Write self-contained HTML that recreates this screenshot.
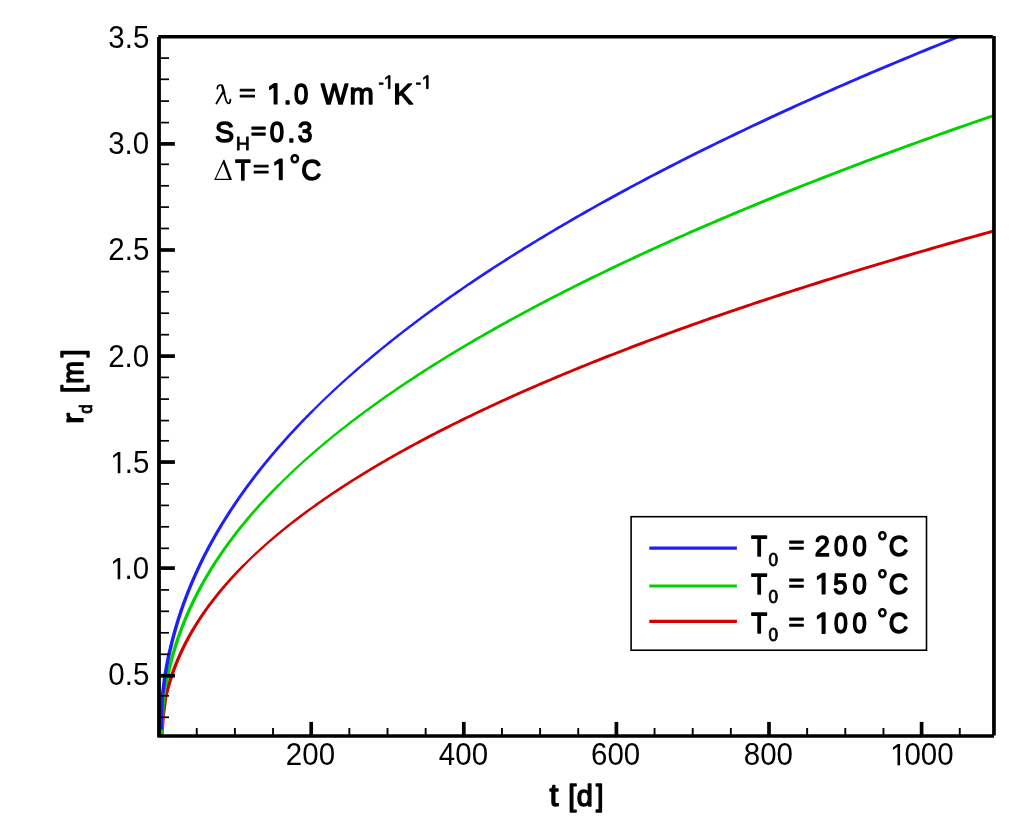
<!DOCTYPE html>
<html><head><meta charset="utf-8"><title>r_d vs t</title><style>
html,body{margin:0;padding:0;background:#fff;width:1024px;height:831px;overflow:hidden}
svg{display:block}
text{fill:#000}
</style></head><body>
<svg width="1024" height="831" viewBox="0 0 1024 831" style="will-change:transform">
<defs><clipPath id="pc"><rect x="159.0" y="36.8" width="834.90" height="699.20"/></clipPath></defs>
<rect width="1024" height="831" fill="#fff"/>
<g clip-path="url(#pc)"><g transform="translate(0.3,0.9)">
<path d="M159.40,736.60 L161.10,714.10 L162.10,706.90 L163.40,696.00 L164.20,693.37 L164.26,693.16 L164.31,692.94 L164.36,692.73 L164.41,692.52 L164.47,692.31 L164.52,692.09 L164.58,691.88 L164.63,691.66 L164.69,691.45 L164.74,691.23 L164.80,691.01 L164.85,690.79 L164.91,690.57 L164.97,690.35 L165.02,690.13 L165.08,689.91 L165.14,689.69 L165.20,689.47 L165.26,689.25 L165.32,689.02 L165.38,688.80 L165.44,688.58 L165.50,688.35 L165.56,688.12 L165.62,687.90 L165.69,687.67 L165.75,687.44 L165.81,687.21 L165.87,686.98 L165.94,686.75 L166.00,686.52 L166.07,686.29 L166.13,686.06 L166.20,685.83 L166.26,685.59 L166.33,685.36 L166.40,685.12 L166.47,684.89 L166.53,684.65 L166.60,684.42 L166.67,684.18 L166.74,683.94 L166.81,683.70 L166.88,683.46 L166.95,683.22 L167.02,682.98 L167.10,682.74 L167.17,682.49 L167.24,682.25 L167.32,682.01 L167.39,681.76 L167.46,681.52 L167.54,681.27 L167.61,681.02 L167.69,680.77 L167.77,680.53 L167.84,680.28 L167.92,680.03 L168.00,679.78 L168.08,679.52 L168.16,679.27 L168.24,679.02 L168.32,678.77 L168.40,678.51 L168.48,678.26 L168.56,678.00 L168.65,677.74 L168.73,677.49 L168.82,677.23 L168.90,676.97 L168.99,676.71 L169.07,676.45 L169.16,676.19 L169.24,675.92 L169.33,675.66 L169.42,675.40 L169.51,675.13 L169.60,674.87 L169.69,674.60 L169.78,674.33 L169.87,674.07 L169.96,673.80 L170.06,673.53 L170.15,673.26 L170.24,672.99 L170.34,672.71 L170.43,672.44 L170.53,672.17 L170.63,671.89 L170.72,671.62 L170.82,671.34 L170.92,671.07 L171.02,670.79 L171.12,670.51 L171.22,670.23 L171.32,669.95 L171.42,669.67 L171.53,669.39 L171.63,669.11 L171.74,668.82 L171.84,668.54 L171.95,668.25 L172.05,667.97 L172.16,667.68 L172.27,667.39 L172.38,667.10 L172.49,666.81 L172.60,666.52 L172.71,666.23 L172.82,665.94 L172.93,665.65 L173.05,665.35 L173.16,665.06 L173.28,664.76 L173.39,664.47 L173.51,664.17 L173.63,663.87 L173.75,663.57 L173.87,663.27 L173.99,662.97 L174.11,662.67 L174.23,662.37 L174.35,662.06 L174.48,661.76 L174.60,661.45 L174.73,661.15 L174.85,660.84 L174.98,660.53 L175.11,660.22 L175.24,659.91 L175.37,659.60 L175.50,659.29 L175.63,658.98 L175.76,658.66 L175.89,658.35 L176.03,658.03 L176.16,657.72 L176.30,657.40 L176.44,657.08 L176.58,656.76 L176.72,656.44 L176.86,656.12 L177.00,655.80 L177.14,655.47 L177.28,655.15 L177.43,654.82 L177.57,654.50 L177.72,654.17 L177.87,653.84 L178.01,653.51 L178.16,653.18 L178.31,652.85 L178.47,652.52 L178.62,652.18 L178.77,651.85 L178.93,651.51 L179.08,651.18 L179.24,650.84 L179.40,650.50 L179.56,650.16 L179.72,649.82 L179.88,649.48 L180.04,649.14 L180.21,648.80 L180.37,648.45 L180.54,648.11 L180.70,647.76 L180.87,647.41 L181.04,647.06 L181.21,646.71 L181.38,646.36 L181.56,646.01 L181.73,645.66 L181.91,645.30 L182.08,644.95 L182.26,644.59 L182.44,644.24 L182.62,643.88 L182.80,643.52 L182.99,643.16 L183.17,642.80 L183.36,642.43 L183.54,642.07 L183.73,641.71 L183.92,641.34 L184.11,640.97 L184.31,640.60 L184.50,640.23 L184.69,639.86 L184.89,639.49 L185.09,639.12 L185.29,638.75 L185.49,638.37 L185.69,638.00 L185.89,637.62 L186.10,637.24 L186.31,636.86 L186.51,636.48 L186.72,636.10 L186.93,635.72 L187.15,635.33 L187.36,634.95 L187.58,634.56 L187.79,634.17 L188.01,633.78 L188.23,633.39 L188.45,633.00 L188.67,632.61 L188.90,632.22 L189.12,631.82 L189.35,631.43 L189.58,631.03 L189.81,630.63 L190.05,630.23 L190.28,629.83 L190.52,629.43 L190.75,629.03 L190.99,628.62 L191.23,628.22 L191.48,627.81 L191.72,627.40 L191.97,626.99 L192.21,626.58 L192.46,626.17 L192.71,625.76 L192.97,625.35 L193.22,624.93 L193.48,624.51 L193.74,624.10 L194.00,623.68 L194.26,623.26 L194.52,622.83 L194.79,622.41 L195.06,621.99 L195.32,621.56 L195.60,621.13 L195.87,620.71 L196.14,620.28 L196.42,619.85 L196.70,619.41 L196.98,618.98 L197.27,618.55 L197.55,618.11 L197.84,617.67 L198.13,617.23 L198.42,616.79 L198.71,616.35 L199.01,615.91 L199.30,615.47 L199.60,615.02 L199.90,614.57 L200.21,614.13 L200.51,613.68 L200.82,613.23 L201.13,612.77 L201.44,612.32 L201.76,611.87 L202.07,611.41 L202.39,610.95 L202.71,610.49 L203.04,610.03 L203.36,609.57 L203.69,609.11 L204.02,608.64 L204.35,608.18 L204.69,607.71 L205.03,607.24 L205.37,606.77 L205.71,606.30 L206.05,605.82 L206.40,605.35 L206.75,604.87 L207.10,604.40 L207.46,603.92 L207.81,603.44 L208.17,602.95 L208.53,602.47 L208.90,601.99 L209.26,601.50 L209.63,601.01 L210.01,600.52 L210.38,600.03 L210.76,599.54 L211.14,599.05 L211.52,598.55 L211.91,598.05 L212.29,597.56 L212.69,597.06 L213.08,596.56 L213.48,596.05 L213.87,595.55 L214.28,595.04 L214.68,594.53 L215.09,594.03 L215.50,593.52 L215.91,593.00 L216.33,592.49 L216.75,591.97 L217.17,591.46 L217.60,590.94 L218.02,590.42 L218.46,589.90 L218.89,589.37 L219.33,588.85 L219.77,588.32 L220.21,587.80 L220.66,587.27 L221.11,586.74 L221.56,586.20 L222.02,585.67 L222.48,585.13 L222.94,584.59 L223.40,584.06 L223.87,583.51 L224.35,582.97 L224.82,582.43 L225.30,581.88 L225.78,581.33 L226.27,580.79 L226.76,580.23 L227.25,579.68 L227.75,579.13 L228.25,578.57 L228.75,578.01 L229.26,577.45 L229.77,576.89 L230.28,576.33 L230.80,575.77 L231.32,575.20 L231.85,574.63 L232.37,574.06 L232.91,573.49 L233.44,572.92 L233.98,572.34 L234.53,571.77 L235.07,571.19 L235.62,570.61 L236.18,570.03 L236.74,569.44 L237.30,568.86 L237.87,568.27 L238.44,567.68 L239.02,567.09 L239.59,566.50 L240.18,565.90 L240.76,565.31 L241.36,564.71 L241.95,564.11 L242.55,563.51 L244.96,561.35 L245.56,560.75 L246.18,560.14 L246.79,559.53 L247.41,558.92 L248.04,558.31 L248.67,557.69 L249.30,557.08 L249.94,556.46 L250.59,555.84 L251.23,555.22 L251.89,554.59 L252.54,553.97 L253.21,553.34 L253.87,552.71 L254.54,552.08 L255.22,551.44 L255.90,550.81 L256.58,550.17 L257.27,549.53 L257.97,548.89 L258.67,548.25 L259.37,547.60 L260.08,546.95 L260.80,546.30 L261.52,545.65 L262.24,545.00 L262.97,544.34 L263.71,543.69 L264.45,543.03 L265.19,542.37 L265.95,541.70 L266.70,541.04 L267.46,540.37 L268.23,539.70 L269.00,539.03 L269.78,538.35 L270.56,537.68 L271.35,537.00 L272.15,536.32 L272.95,535.64 L273.75,534.96 L274.56,534.27 L275.38,533.58 L276.20,532.89 L277.03,532.20 L277.86,531.50 L278.70,530.81 L279.55,530.11 L280.40,529.41 L281.26,528.71 L282.12,528.00 L282.99,527.29 L283.87,526.58 L284.75,525.87 L285.64,525.16 L286.54,524.44 L287.44,523.72 L288.34,523.00 L289.26,522.28 L290.18,521.56 L291.10,520.83 L292.04,520.10 L292.98,519.37 L293.92,518.64 L294.88,517.90 L295.84,517.16 L296.80,516.42 L297.78,515.68 L298.76,514.93 L299.75,514.19 L300.74,513.44 L301.74,512.69 L302.75,511.93 L303.76,511.18 L304.79,510.42 L305.82,509.66 L306.85,508.89 L307.90,508.13 L308.95,507.36 L310.01,506.59 L311.07,505.82 L312.15,505.04 L313.23,504.26 L314.32,503.48 L315.42,502.70 L316.52,501.92 L317.63,501.13 L318.75,500.34 L319.88,499.55 L321.02,498.76 L322.16,497.96 L323.31,497.16 L324.47,496.36 L325.64,495.55 L326.82,494.75 L328.00,493.94 L329.20,493.13 L330.40,492.31 L331.61,491.50 L332.83,490.68 L334.05,489.86 L335.29,489.03 L336.53,488.21 L337.79,487.38 L339.05,486.55 L340.32,485.71 L341.60,484.88 L342.89,484.04 L344.19,483.20 L345.49,482.35 L346.81,481.51 L348.14,480.66 L349.47,479.80 L350.82,478.95 L352.17,478.09 L353.53,477.23 L354.91,476.37 L356.29,475.51 L357.68,474.64 L359.08,473.77 L360.50,472.89 L361.92,472.02 L363.35,471.14 L364.79,470.26 L366.24,469.38 L367.71,468.49 L369.18,467.60 L370.66,466.71 L372.16,465.81 L373.66,464.92 L375.17,464.02 L376.70,463.11 L378.24,462.21 L379.78,461.30 L381.34,460.39 L382.91,459.48 L384.49,458.56 L386.08,457.64 L387.68,456.72 L389.30,455.79 L390.92,454.86 L392.56,453.93 L394.21,453.00 L395.87,452.06 L397.54,451.12 L399.22,450.18 L400.91,449.24 L402.62,448.29 L404.34,447.34 L406.07,446.38 L407.81,445.43 L409.57,444.47 L411.34,443.51 L413.12,442.54 L414.91,441.57 L416.72,440.60 L418.53,439.63 L420.36,438.65 L422.21,437.67 L424.06,436.69 L425.93,435.70 L427.82,434.71 L429.71,433.72 L431.62,432.72 L433.55,431.73 L435.48,430.72 L437.43,429.72 L439.40,428.71 L441.37,427.70 L443.37,426.69 L445.37,425.67 L447.39,424.65 L449.43,423.63 L451.47,422.60 L453.54,421.57 L455.62,420.54 L457.71,419.51 L459.81,418.47 L461.94,417.42 L464.07,416.38 L466.22,415.33 L468.39,414.28 L470.57,413.23 L472.77,412.17 L474.98,411.11 L477.21,410.04 L479.46,408.97 L481.72,407.90 L483.99,406.83 L486.28,405.75 L488.59,404.67 L490.92,403.59 L493.26,402.50 L495.61,401.41 L497.99,400.32 L500.38,399.22 L502.78,398.12 L505.21,397.02 L507.65,395.91 L510.11,394.80 L512.58,393.68 L515.08,392.57 L517.59,391.45 L520.12,390.32 L522.66,389.19 L525.23,388.06 L527.81,386.93 L530.41,385.79 L533.03,384.65 L535.67,383.50 L538.32,382.36 L541.00,381.20 L543.69,380.05 L546.40,378.89 L549.13,377.73 L551.89,376.56 L554.66,375.39 L557.45,374.22 L560.25,373.04 L563.08,371.86 L565.93,370.68 L568.80,369.49 L571.69,368.30 L574.60,367.10 L577.53,365.91 L580.48,364.70 L583.45,363.50 L586.45,362.29 L589.46,361.08 L592.49,359.86 L595.55,358.64 L598.63,357.41 L601.73,356.19 L604.85,354.96 L607.99,353.72 L611.16,352.48 L614.34,351.24 L617.55,349.99 L620.79,348.74 L624.04,347.49 L627.32,346.23 L630.62,344.97 L633.95,343.70 L637.29,342.43 L640.67,341.16 L644.06,339.88 L647.48,338.60 L650.92,337.31 L654.39,336.03 L657.88,334.73 L661.40,333.44 L664.94,332.14 L668.51,330.83 L672.10,329.52 L675.72,328.21 L679.36,326.89 L683.03,325.57 L686.72,324.25 L690.44,322.92 L694.19,321.59 L697.96,320.25 L701.76,318.91 L705.58,317.56 L709.44,316.22 L713.32,314.86 L717.22,313.50 L721.16,312.14 L725.12,310.78 L729.11,309.41 L733.13,308.04 L737.18,306.66 L741.25,305.28 L745.36,303.89 L749.49,302.50 L753.65,301.10 L757.84,299.71 L762.06,298.30 L766.31,296.89 L770.59,295.48 L774.90,294.07 L779.24,292.65 L783.62,291.22 L788.02,289.79 L792.45,288.36 L796.92,286.92 L801.41,285.48 L805.94,284.03 L810.50,282.58 L815.09,281.13 L819.72,279.67 L824.37,278.21 L829.06,276.74 L833.78,275.27 L838.54,273.79 L843.33,272.31 L848.15,270.82 L853.01,269.33 L857.90,267.83 L862.82,266.33 L867.79,264.83 L872.78,263.32 L877.81,261.81 L882.88,260.29 L887.98,258.77 L893.12,257.24 L898.29,255.71 L903.50,254.17 L908.75,252.63 L914.03,251.09 L919.35,249.54 L924.71,247.98 L930.10,246.42 L935.54,244.86 L941.01,243.29 L946.52,241.71 L952.07,240.14 L957.66,238.55 L963.29,236.96 L968.96,235.37 L974.66,233.77 L980.41,232.17 L986.20,230.56 L992.03,228.95 L997.90,227.33 L997.90,230.43 L992.03,232.05 L986.20,233.66 L980.41,235.27 L974.66,236.87 L968.96,238.47 L963.29,240.06 L957.66,241.65 L952.07,243.24 L946.52,244.81 L941.01,246.39 L935.54,247.96 L930.10,249.52 L924.71,251.08 L919.35,252.64 L914.03,254.19 L908.75,255.73 L903.50,257.27 L898.29,258.81 L893.12,260.34 L887.98,261.87 L882.88,263.39 L877.81,264.91 L872.78,266.42 L867.79,267.93 L862.82,269.43 L857.90,270.93 L853.01,272.43 L848.15,273.92 L843.33,275.41 L838.54,276.89 L833.78,278.37 L829.06,279.84 L824.37,281.31 L819.72,282.77 L815.09,284.23 L810.50,285.68 L805.94,287.13 L801.41,288.58 L796.92,290.02 L792.45,291.46 L788.02,292.89 L783.62,294.32 L779.24,295.75 L774.90,297.17 L770.59,298.58 L766.31,299.99 L762.06,301.40 L757.84,302.81 L753.65,304.20 L749.49,305.60 L745.36,306.99 L741.25,308.38 L737.18,309.76 L733.13,311.14 L729.11,312.51 L725.12,313.88 L721.16,315.24 L717.22,316.60 L713.32,317.96 L709.44,319.32 L705.58,320.66 L701.76,322.01 L697.96,323.35 L694.19,324.69 L690.44,326.02 L686.72,327.35 L683.03,328.67 L679.36,329.99 L675.72,331.31 L672.10,332.62 L668.51,333.93 L664.94,335.24 L661.40,336.54 L657.88,337.83 L654.39,339.13 L650.92,340.41 L647.48,341.70 L644.06,342.98 L640.67,344.26 L637.29,345.53 L633.95,346.80 L630.62,348.07 L627.32,349.33 L624.04,350.59 L620.79,351.84 L617.55,353.09 L614.34,354.34 L611.16,355.58 L607.99,356.82 L604.85,358.06 L601.73,359.29 L598.63,360.51 L595.55,361.74 L592.49,362.96 L589.46,364.18 L586.45,365.39 L583.45,366.60 L580.48,367.80 L577.53,369.01 L574.60,370.20 L571.69,371.40 L568.80,372.59 L565.93,373.78 L563.08,374.96 L560.25,376.14 L557.45,377.32 L554.66,378.49 L551.89,379.66 L549.13,380.83 L546.40,381.99 L543.69,383.15 L541.00,384.30 L538.32,385.46 L535.67,386.60 L533.03,387.75 L530.41,388.89 L527.81,390.03 L525.23,391.16 L522.66,392.29 L520.12,393.42 L517.59,394.55 L515.08,395.67 L512.58,396.78 L510.11,397.90 L507.65,399.01 L505.21,400.12 L502.78,401.22 L500.38,402.32 L497.99,403.42 L495.61,404.51 L493.26,405.60 L490.92,406.69 L488.59,407.77 L486.28,408.85 L483.99,409.93 L481.72,411.00 L479.46,412.07 L477.21,413.14 L474.98,414.21 L472.77,415.27 L470.57,416.33 L468.39,417.38 L466.22,418.43 L464.07,419.48 L461.94,420.52 L459.81,421.57 L457.71,422.61 L455.62,423.64 L453.54,424.67 L451.47,425.70 L449.43,426.73 L447.39,427.75 L445.37,428.77 L443.37,429.79 L441.37,430.80 L439.40,431.81 L437.43,432.82 L435.48,433.82 L433.55,434.83 L431.62,435.82 L429.71,436.82 L427.82,437.81 L425.93,438.80 L424.06,439.79 L422.21,440.77 L420.36,441.75 L418.53,442.73 L416.72,443.70 L414.91,444.67 L413.12,445.64 L411.34,446.61 L409.57,447.57 L407.81,448.53 L406.07,449.48 L404.34,450.44 L402.62,451.39 L400.91,452.34 L399.22,453.28 L397.54,454.22 L395.87,455.16 L394.21,456.10 L392.56,457.03 L390.92,457.96 L389.30,458.89 L387.68,459.82 L386.08,460.74 L384.49,461.66 L382.91,462.58 L381.34,463.49 L379.78,464.40 L378.24,465.31 L376.70,466.21 L375.17,467.12 L373.66,468.02 L372.16,468.91 L370.66,469.81 L369.18,470.70 L367.71,471.59 L366.24,472.48 L364.79,473.36 L363.35,474.24 L361.92,475.12 L360.50,475.99 L359.08,476.87 L357.68,477.74 L356.29,478.61 L354.91,479.47 L353.53,480.33 L352.17,481.19 L350.82,482.05 L349.47,482.90 L348.14,483.76 L346.81,484.61 L345.49,485.45 L344.19,486.30 L342.89,487.14 L341.60,487.98 L340.32,488.81 L339.05,489.65 L337.79,490.48 L336.53,491.31 L335.29,492.13 L334.05,492.96 L332.83,493.78 L331.61,494.60 L330.40,495.41 L329.20,496.23 L328.00,497.04 L326.82,497.85 L325.64,498.65 L324.47,499.46 L323.31,500.26 L322.16,501.06 L321.02,501.86 L319.88,502.65 L318.75,503.44 L317.63,504.23 L316.52,505.02 L315.42,505.80 L314.32,506.58 L313.23,507.36 L312.15,508.14 L311.07,508.92 L310.01,509.69 L308.95,510.46 L307.90,511.23 L306.85,511.99 L305.82,512.76 L304.79,513.52 L303.76,514.28 L302.75,515.03 L301.74,515.79 L300.74,516.54 L299.75,517.29 L298.76,518.03 L297.78,518.78 L296.80,519.52 L295.84,520.26 L294.88,521.00 L293.92,521.74 L292.98,522.47 L292.04,523.20 L291.10,523.93 L290.18,524.66 L289.26,525.38 L288.34,526.10 L287.44,526.82 L286.54,527.54 L285.64,528.26 L284.75,528.97 L283.87,529.68 L282.99,530.39 L282.12,531.10 L281.26,531.81 L280.40,532.51 L279.55,533.21 L278.70,533.91 L277.86,534.60 L277.03,535.30 L276.20,535.99 L275.38,536.68 L274.56,537.37 L273.75,538.06 L272.95,538.74 L272.15,539.42 L271.35,540.10 L270.56,540.78 L269.78,541.45 L269.00,542.13 L268.23,542.80 L267.46,543.47 L266.70,544.14 L265.95,544.80 L265.19,545.47 L264.45,546.13 L263.71,546.79 L262.97,547.44 L262.24,548.10 L261.52,548.75 L260.80,549.40 L260.08,550.05 L259.37,550.70 L258.67,551.35 L257.97,551.99 L257.27,552.63 L256.58,553.27 L255.90,553.91 L255.22,554.54 L254.54,555.18 L253.87,555.81 L253.21,556.44 L252.54,557.07 L251.89,557.69 L251.23,558.32 L250.59,558.94 L249.94,559.56 L249.30,560.18 L248.67,560.79 L248.04,561.41 L247.41,562.02 L246.79,562.63 L246.18,563.24 L245.56,563.85 L244.96,564.45 L246.15,563.51 L245.55,564.11 L244.96,564.71 L244.36,565.31 L243.78,565.90 L243.19,566.50 L242.62,567.09 L242.04,567.68 L241.47,568.27 L240.90,568.86 L240.34,569.44 L239.78,570.03 L239.22,570.61 L238.67,571.19 L238.13,571.77 L237.58,572.34 L237.04,572.92 L236.51,573.49 L235.97,574.06 L235.45,574.63 L234.92,575.20 L234.40,575.77 L233.88,576.33 L233.37,576.89 L232.86,577.45 L232.35,578.01 L231.85,578.57 L231.35,579.13 L230.85,579.68 L230.36,580.23 L229.87,580.79 L229.38,581.33 L228.90,581.88 L228.42,582.43 L227.95,582.97 L227.47,583.51 L227.00,584.06 L226.54,584.59 L226.08,585.13 L225.62,585.67 L225.16,586.20 L224.71,586.74 L224.26,587.27 L223.81,587.80 L223.37,588.32 L222.93,588.85 L222.49,589.37 L222.06,589.90 L221.62,590.42 L221.20,590.94 L220.77,591.46 L220.35,591.97 L219.93,592.49 L219.51,593.00 L219.10,593.52 L218.69,594.03 L218.28,594.53 L217.88,595.04 L217.47,595.55 L217.08,596.05 L216.68,596.56 L216.29,597.06 L215.89,597.56 L215.51,598.05 L215.12,598.55 L214.74,599.05 L214.36,599.54 L213.98,600.03 L213.61,600.52 L213.23,601.01 L212.86,601.50 L212.50,601.99 L212.13,602.47 L211.77,602.95 L211.41,603.44 L211.06,603.92 L210.70,604.40 L210.35,604.87 L210.00,605.35 L209.65,605.82 L209.31,606.30 L208.97,606.77 L208.63,607.24 L208.29,607.71 L207.95,608.18 L207.62,608.64 L207.29,609.11 L206.96,609.57 L206.64,610.03 L206.31,610.49 L205.99,610.95 L205.67,611.41 L205.36,611.87 L205.04,612.32 L204.73,612.77 L204.42,613.23 L204.11,613.68 L203.81,614.13 L203.50,614.57 L203.20,615.02 L202.90,615.47 L202.61,615.91 L202.31,616.35 L202.02,616.79 L201.73,617.23 L201.44,617.67 L201.15,618.11 L200.87,618.55 L200.58,618.98 L200.30,619.41 L200.02,619.85 L199.74,620.28 L199.47,620.71 L199.20,621.13 L198.92,621.56 L198.66,621.99 L198.39,622.41 L198.12,622.83 L197.86,623.26 L197.60,623.68 L197.34,624.10 L197.08,624.51 L196.82,624.93 L196.57,625.35 L196.31,625.76 L196.06,626.17 L195.81,626.58 L195.57,626.99 L195.32,627.40 L195.08,627.81 L194.83,628.22 L194.59,628.62 L194.35,629.03 L194.12,629.43 L193.88,629.83 L193.65,630.23 L193.41,630.63 L193.18,631.03 L192.95,631.43 L192.72,631.82 L192.50,632.22 L192.27,632.61 L192.05,633.00 L191.83,633.39 L191.61,633.78 L191.39,634.17 L191.18,634.56 L190.96,634.95 L190.75,635.33 L190.53,635.72 L190.32,636.10 L190.11,636.48 L189.91,636.86 L189.70,637.24 L189.49,637.62 L189.29,638.00 L189.09,638.37 L188.89,638.75 L188.69,639.12 L188.49,639.49 L188.29,639.86 L188.10,640.23 L187.91,640.60 L187.71,640.97 L187.52,641.34 L187.33,641.71 L187.14,642.07 L186.96,642.43 L186.77,642.80 L186.59,643.16 L186.40,643.52 L186.22,643.88 L186.04,644.24 L185.86,644.59 L185.68,644.95 L185.51,645.30 L185.33,645.66 L185.16,646.01 L184.98,646.36 L184.81,646.71 L184.64,647.06 L184.47,647.41 L184.30,647.76 L184.14,648.11 L183.97,648.45 L183.81,648.80 L183.64,649.14 L183.48,649.48 L183.32,649.82 L183.16,650.16 L183.00,650.50 L182.84,650.84 L182.68,651.18 L182.53,651.51 L182.37,651.85 L182.22,652.18 L182.07,652.52 L181.91,652.85 L181.76,653.18 L181.61,653.51 L181.47,653.84 L181.32,654.17 L181.17,654.50 L181.03,654.82 L180.88,655.15 L180.74,655.47 L180.60,655.80 L180.46,656.12 L180.32,656.44 L180.18,656.76 L180.04,657.08 L179.90,657.40 L179.76,657.72 L179.63,658.03 L179.49,658.35 L179.36,658.66 L179.23,658.98 L179.10,659.29 L178.97,659.60 L178.84,659.91 L178.71,660.22 L178.58,660.53 L178.45,660.84 L178.33,661.15 L178.20,661.45 L178.08,661.76 L177.95,662.06 L177.83,662.37 L177.71,662.67 L177.59,662.97 L177.47,663.27 L177.35,663.57 L177.23,663.87 L177.11,664.17 L176.99,664.47 L176.88,664.76 L176.76,665.06 L176.65,665.35 L176.53,665.65 L176.42,665.94 L176.31,666.23 L176.20,666.52 L176.09,666.81 L175.98,667.10 L175.87,667.39 L175.76,667.68 L175.65,667.97 L175.55,668.25 L175.44,668.54 L175.34,668.82 L175.23,669.11 L175.13,669.39 L175.02,669.67 L174.92,669.95 L174.82,670.23 L174.72,670.51 L174.62,670.79 L174.52,671.07 L174.42,671.34 L174.32,671.62 L174.23,671.89 L174.13,672.17 L174.03,672.44 L173.94,672.71 L173.84,672.99 L173.75,673.26 L173.66,673.53 L173.56,673.80 L173.47,674.07 L173.38,674.33 L173.29,674.60 L173.20,674.87 L173.11,675.13 L173.02,675.40 L172.93,675.66 L172.84,675.92 L172.76,676.19 L172.67,676.45 L172.59,676.71 L172.50,676.97 L172.42,677.23 L172.33,677.49 L172.25,677.74 L172.16,678.00 L172.08,678.26 L172.00,678.51 L171.92,678.77 L171.84,679.02 L171.76,679.27 L171.68,679.52 L171.60,679.78 L171.52,680.03 L171.44,680.28 L171.37,680.53 L171.29,680.77 L171.21,681.02 L171.14,681.27 L171.06,681.52 L170.99,681.76 L170.92,682.01 L170.84,682.25 L170.77,682.49 L170.70,682.74 L170.62,682.98 L170.55,683.22 L170.48,683.46 L170.41,683.70 L170.34,683.94 L170.27,684.18 L170.20,684.42 L170.13,684.65 L170.07,684.89 L170.00,685.12 L169.93,685.36 L169.86,685.59 L169.80,685.83 L169.73,686.06 L169.67,686.29 L169.60,686.52 L169.54,686.75 L169.47,686.98 L169.41,687.21 L169.35,687.44 L169.29,687.67 L169.22,687.90 L169.16,688.12 L169.10,688.35 L169.04,688.58 L168.98,688.80 L168.92,689.02 L168.86,689.25 L168.80,689.47 L168.74,689.69 L168.68,689.91 L168.62,690.13 L168.57,690.35 L168.51,690.57 L168.45,690.79 L168.40,691.01 L168.34,691.23 L168.29,691.45 L168.23,691.66 L168.18,691.88 L168.12,692.09 L168.07,692.31 L168.01,692.52 L167.96,692.73 L167.91,692.94 L167.86,693.16 L167.80,693.37 L167.00,696.00 L165.70,706.90 L164.70,714.10 L163.00,736.60 Z" fill="#d20000"/>
<path d="M159.40,733.50 L160.70,706.90 L161.80,696.00 L162.80,685.20 L164.00,682.65 L164.05,682.39 L164.10,682.12 L164.15,681.85 L164.20,681.58 L164.26,681.31 L164.31,681.04 L164.36,680.77 L164.41,680.50 L164.47,680.23 L164.52,679.96 L164.58,679.68 L164.63,679.41 L164.69,679.13 L164.74,678.86 L164.80,678.58 L164.85,678.31 L164.91,678.03 L164.97,677.75 L165.02,677.47 L165.08,677.19 L165.14,676.91 L165.20,676.62 L165.26,676.34 L165.32,676.06 L165.38,675.77 L165.44,675.49 L165.50,675.20 L165.56,674.92 L165.62,674.63 L165.69,674.34 L165.75,674.05 L165.81,673.76 L165.87,673.47 L165.94,673.18 L166.00,672.89 L166.07,672.59 L166.13,672.30 L166.20,672.01 L166.26,671.71 L166.33,671.41 L166.40,671.12 L166.47,670.82 L166.53,670.52 L166.60,670.22 L166.67,669.92 L166.74,669.62 L166.81,669.32 L166.88,669.01 L166.95,668.71 L167.02,668.40 L167.10,668.10 L167.17,667.79 L167.24,667.48 L167.32,667.18 L167.39,666.87 L167.46,666.56 L167.54,666.25 L167.61,665.94 L167.69,665.62 L167.77,665.31 L167.84,665.00 L167.92,664.68 L168.00,664.36 L168.08,664.05 L168.16,663.73 L168.24,663.41 L168.32,663.09 L168.40,662.77 L168.48,662.45 L168.56,662.13 L168.65,661.80 L168.73,661.48 L168.82,661.16 L168.90,660.83 L168.99,660.50 L169.07,660.18 L169.16,659.85 L169.24,659.52 L169.33,659.19 L169.42,658.86 L169.51,658.52 L169.60,658.19 L169.69,657.86 L169.78,657.52 L169.87,657.19 L169.96,656.85 L170.06,656.51 L170.15,656.17 L170.24,655.83 L170.34,655.49 L170.43,655.15 L170.53,654.81 L170.63,654.46 L170.72,654.12 L170.82,653.77 L170.92,653.43 L171.02,653.08 L171.12,652.73 L171.22,652.38 L171.32,652.03 L171.42,651.68 L171.53,651.33 L171.63,650.97 L171.74,650.62 L171.84,650.26 L171.95,649.91 L172.05,649.55 L172.16,649.19 L172.27,648.83 L172.38,648.47 L172.49,648.11 L172.60,647.75 L172.71,647.38 L172.82,647.02 L172.93,646.65 L173.05,646.29 L173.16,645.92 L173.28,645.55 L173.39,645.18 L173.51,644.81 L173.63,644.44 L173.75,644.07 L173.87,643.69 L173.99,643.32 L174.11,642.94 L174.23,642.56 L174.35,642.19 L174.48,641.81 L174.60,641.43 L174.73,641.04 L174.85,640.66 L174.98,640.28 L175.11,639.89 L175.24,639.51 L175.37,639.12 L175.50,638.73 L175.63,638.34 L175.76,637.95 L175.89,637.56 L176.03,637.17 L176.16,636.78 L176.30,636.38 L176.44,635.99 L176.58,635.59 L176.72,635.19 L176.86,634.79 L177.00,634.39 L177.14,633.99 L177.28,633.59 L177.43,633.19 L177.57,632.78 L177.72,632.37 L177.87,631.97 L178.01,631.56 L178.16,631.15 L178.31,630.74 L178.47,630.33 L178.62,629.92 L178.77,629.50 L178.93,629.09 L179.08,628.67 L179.24,628.25 L179.40,627.83 L179.56,627.41 L179.72,626.99 L179.88,626.57 L180.04,626.15 L180.21,625.72 L180.37,625.29 L180.54,624.87 L180.70,624.44 L180.87,624.01 L181.04,623.58 L181.21,623.15 L181.38,622.71 L181.56,622.28 L181.73,621.84 L181.91,621.40 L182.08,620.97 L182.26,620.53 L182.44,620.09 L182.62,619.64 L182.80,619.20 L182.99,618.76 L183.17,618.31 L183.36,617.86 L183.54,617.41 L183.73,616.96 L183.92,616.51 L184.11,616.06 L184.31,615.61 L184.50,615.15 L184.69,614.69 L184.89,614.24 L185.09,613.78 L185.29,613.32 L185.49,612.86 L185.69,612.39 L185.89,611.93 L186.10,611.46 L186.31,611.00 L186.51,610.53 L186.72,610.06 L186.93,609.59 L187.15,609.11 L187.36,608.64 L187.58,608.17 L187.79,607.69 L188.01,607.21 L188.23,606.73 L188.45,606.25 L188.67,605.77 L188.90,605.29 L189.12,604.80 L189.35,604.32 L189.58,603.83 L189.81,603.34 L190.05,602.85 L190.28,602.36 L190.52,601.86 L190.75,601.37 L190.99,600.87 L191.23,600.37 L191.48,599.88 L191.72,599.38 L191.97,598.87 L192.21,598.37 L192.46,597.87 L192.71,597.36 L192.97,596.85 L193.22,596.34 L193.48,595.83 L193.74,595.32 L194.00,594.81 L194.26,594.29 L194.52,593.77 L194.79,593.26 L195.06,592.74 L195.32,592.21 L195.60,591.69 L195.87,591.17 L196.14,590.64 L196.42,590.12 L196.70,589.59 L196.98,589.06 L197.27,588.52 L197.55,587.99 L197.84,587.46 L198.13,586.92 L198.42,586.38 L198.71,585.84 L199.01,585.30 L199.30,584.76 L199.60,584.21 L199.90,583.67 L200.21,583.12 L200.51,582.57 L200.82,582.02 L201.13,581.47 L201.44,580.91 L201.76,580.36 L202.07,579.80 L202.39,579.24 L202.71,578.68 L203.04,578.12 L203.36,577.56 L203.69,576.99 L204.02,576.42 L204.35,575.85 L204.69,575.28 L205.03,574.71 L205.37,574.14 L205.71,573.56 L206.05,572.99 L206.40,572.41 L206.75,571.83 L207.10,571.24 L207.46,570.66 L207.81,570.07 L208.17,569.49 L208.53,568.90 L208.90,568.31 L209.26,567.71 L209.63,567.12 L210.01,566.52 L210.38,565.93 L210.76,565.33 L211.14,564.73 L211.52,564.12 L211.91,563.52 L212.29,562.91 L212.69,562.30 L213.08,561.69 L213.48,561.08 L213.87,560.47 L214.28,559.85 L214.68,559.23 L215.09,558.61 L215.50,557.99 L215.91,557.37 L216.33,556.75 L216.75,556.12 L217.17,555.49 L217.60,554.86 L218.02,554.23 L218.46,553.59 L218.89,552.96 L219.33,552.32 L219.77,551.68 L220.21,551.04 L220.66,550.40 L221.11,549.75 L221.56,549.10 L222.02,548.45 L222.48,547.80 L222.94,547.15 L223.40,546.49 L223.87,545.84 L224.35,545.18 L224.82,544.52 L225.30,543.85 L225.78,543.19 L226.27,542.52 L226.76,541.85 L227.25,541.18 L227.75,540.51 L228.25,539.84 L228.75,539.16 L229.26,538.48 L229.77,537.80 L230.28,537.12 L230.80,536.43 L231.32,535.75 L231.85,535.06 L232.37,534.37 L232.91,533.67 L233.44,532.98 L233.98,532.28 L234.53,531.58 L235.07,530.88 L235.62,530.18 L236.18,529.47 L236.74,528.76 L237.30,528.05 L237.87,527.34 L238.44,526.63 L239.02,525.91 L239.59,525.19 L240.18,524.47 L240.76,523.75 L241.36,523.03 L241.95,522.30 L242.55,521.57 L243.16,520.84 L243.76,520.11 L244.38,519.37 L244.99,518.63 L245.61,517.89 L246.24,517.15 L246.87,516.41 L247.50,515.66 L248.14,514.91 L248.79,514.16 L249.43,513.41 L250.09,512.65 L250.74,511.89 L251.41,511.13 L252.07,510.37 L252.74,509.61 L253.42,508.84 L254.10,508.07 L254.78,507.30 L255.47,506.52 L256.17,505.75 L256.87,504.97 L257.57,504.19 L258.28,503.40 L259.00,502.62 L259.72,501.83 L260.44,501.04 L261.17,500.25 L261.91,499.45 L262.65,498.65 L263.39,497.85 L264.15,497.05 L264.90,496.25 L265.66,495.44 L266.43,494.63 L267.20,493.82 L267.98,493.00 L268.76,492.19 L269.55,491.37 L270.35,490.54 L271.15,489.72 L271.95,488.89 L272.76,488.06 L273.58,487.23 L274.40,486.40 L275.23,485.56 L276.06,484.72 L276.90,483.88 L279.55,481.48 L280.40,480.64 L281.26,479.79 L282.12,478.93 L282.99,478.08 L283.87,477.22 L284.75,476.36 L285.64,475.50 L286.54,474.63 L287.44,473.76 L288.34,472.89 L289.26,472.02 L290.18,471.14 L291.10,470.26 L292.04,469.38 L292.98,468.50 L293.92,467.61 L294.88,466.72 L295.84,465.83 L296.80,464.94 L297.78,464.04 L298.76,463.14 L299.75,462.23 L300.74,461.33 L301.74,460.42 L302.75,459.51 L303.76,458.59 L304.79,457.68 L305.82,456.76 L306.85,455.84 L307.90,454.91 L308.95,453.98 L310.01,453.05 L311.07,452.12 L312.15,451.18 L313.23,450.24 L314.32,449.30 L315.42,448.35 L316.52,447.40 L317.63,446.45 L318.75,445.50 L319.88,444.54 L321.02,443.58 L322.16,442.62 L323.31,441.65 L324.47,440.68 L325.64,439.71 L326.82,438.74 L328.00,437.76 L329.20,436.78 L330.40,435.80 L331.61,434.81 L332.83,433.82 L334.05,432.83 L335.29,431.83 L336.53,430.83 L337.79,429.83 L339.05,428.82 L340.32,427.81 L341.60,426.80 L342.89,425.79 L344.19,424.77 L345.49,423.75 L346.81,422.73 L348.14,421.70 L349.47,420.67 L350.82,419.64 L352.17,418.60 L353.53,417.56 L354.91,416.52 L356.29,415.47 L357.68,414.42 L359.08,413.37 L360.50,412.31 L361.92,411.25 L363.35,410.19 L364.79,409.12 L366.24,408.05 L367.71,406.98 L369.18,405.91 L370.66,404.83 L372.16,403.74 L373.66,402.66 L375.17,401.57 L376.70,400.48 L378.24,399.38 L379.78,398.28 L381.34,397.18 L382.91,396.07 L384.49,394.96 L386.08,393.85 L387.68,392.73 L389.30,391.61 L390.92,390.49 L392.56,389.36 L394.21,388.23 L395.87,387.10 L397.54,385.96 L399.22,384.82 L400.91,383.67 L402.62,382.53 L404.34,381.37 L406.07,380.22 L407.81,379.06 L409.57,377.90 L411.34,376.73 L413.12,375.56 L414.91,374.39 L416.72,373.21 L418.53,372.03 L420.36,370.84 L422.21,369.66 L424.06,368.46 L425.93,367.27 L427.82,366.07 L429.71,364.87 L431.62,363.66 L433.55,362.45 L435.48,361.23 L437.43,360.01 L439.40,358.79 L441.37,357.57 L443.37,356.34 L445.37,355.10 L447.39,353.86 L449.43,352.62 L451.47,351.38 L453.54,350.13 L455.62,348.87 L457.71,347.62 L459.81,346.36 L461.94,345.09 L464.07,343.82 L466.22,342.55 L468.39,341.27 L470.57,339.99 L472.77,338.71 L474.98,337.42 L477.21,336.12 L479.46,334.83 L481.72,333.52 L483.99,332.22 L486.28,330.91 L488.59,329.59 L490.92,328.28 L493.26,326.95 L495.61,325.63 L497.99,324.30 L500.38,322.96 L502.78,321.62 L505.21,320.28 L507.65,318.93 L510.11,317.58 L512.58,316.23 L515.08,314.86 L517.59,313.50 L520.12,312.13 L522.66,310.76 L525.23,309.38 L527.81,308.00 L530.41,306.61 L533.03,305.22 L535.67,303.83 L538.32,302.43 L541.00,301.02 L543.69,299.61 L546.40,298.20 L549.13,296.78 L551.89,295.36 L554.66,293.93 L557.45,292.50 L560.25,291.07 L563.08,289.63 L565.93,288.18 L568.80,286.73 L571.69,285.28 L574.60,283.82 L577.53,282.36 L580.48,280.89 L583.45,279.42 L586.45,277.94 L589.46,276.46 L592.49,274.97 L595.55,273.48 L598.63,271.98 L601.73,270.48 L604.85,268.98 L607.99,267.47 L611.16,265.95 L614.34,264.43 L617.55,262.90 L620.79,261.37 L624.04,259.84 L627.32,258.30 L630.62,256.75 L633.95,255.20 L637.29,253.65 L640.67,252.09 L644.06,250.52 L647.48,248.95 L650.92,247.38 L654.39,245.80 L657.88,244.21 L661.40,242.62 L664.94,241.03 L668.51,239.43 L672.10,237.82 L675.72,236.21 L679.36,234.60 L683.03,232.98 L686.72,231.35 L690.44,229.72 L694.19,228.08 L697.96,226.44 L701.76,224.79 L705.58,223.14 L709.44,221.48 L713.32,219.82 L717.22,218.15 L721.16,216.47 L725.12,214.80 L729.11,213.11 L733.13,211.42 L737.18,209.72 L741.25,208.02 L745.36,206.32 L749.49,204.60 L753.65,202.89 L757.84,201.16 L762.06,199.43 L766.31,197.70 L770.59,195.96 L774.90,194.21 L779.24,192.46 L783.62,190.70 L788.02,188.94 L792.45,187.17 L796.92,185.40 L801.41,183.62 L805.94,181.83 L810.50,180.04 L815.09,178.24 L819.72,176.44 L824.37,174.63 L829.06,172.81 L833.78,170.99 L838.54,169.16 L843.33,167.33 L848.15,165.49 L853.01,163.65 L857.90,161.80 L862.82,159.94 L867.79,158.08 L872.78,156.21 L877.81,154.33 L882.88,152.45 L887.98,150.56 L893.12,148.67 L898.29,146.77 L903.50,144.86 L908.75,142.95 L914.03,141.03 L919.35,139.11 L924.71,137.18 L930.10,135.24 L935.54,133.29 L941.01,131.34 L946.52,129.39 L952.07,127.42 L957.66,125.46 L963.29,123.48 L968.96,121.50 L974.66,119.51 L980.41,117.51 L986.20,115.51 L992.03,113.50 L997.90,111.49 L997.90,114.59 L992.03,116.60 L986.20,118.61 L980.41,120.61 L974.66,122.61 L968.96,124.60 L963.29,126.58 L957.66,128.56 L952.07,130.52 L946.52,132.49 L941.01,134.44 L935.54,136.39 L930.10,138.34 L924.71,140.28 L919.35,142.21 L914.03,144.13 L908.75,146.05 L903.50,147.96 L898.29,149.87 L893.12,151.77 L887.98,153.66 L882.88,155.55 L877.81,157.43 L872.78,159.31 L867.79,161.18 L862.82,163.04 L857.90,164.90 L853.01,166.75 L848.15,168.59 L843.33,170.43 L838.54,172.26 L833.78,174.09 L829.06,175.91 L824.37,177.73 L819.72,179.54 L815.09,181.34 L810.50,183.14 L805.94,184.93 L801.41,186.72 L796.92,188.50 L792.45,190.27 L788.02,192.04 L783.62,193.80 L779.24,195.56 L774.90,197.31 L770.59,199.06 L766.31,200.80 L762.06,202.53 L757.84,204.26 L753.65,205.99 L749.49,207.70 L745.36,209.42 L741.25,211.12 L737.18,212.82 L733.13,214.52 L729.11,216.21 L725.12,217.90 L721.16,219.57 L717.22,221.25 L713.32,222.92 L709.44,224.58 L705.58,226.24 L701.76,227.89 L697.96,229.54 L694.19,231.18 L690.44,232.82 L686.72,234.45 L683.03,236.08 L679.36,237.70 L675.72,239.31 L672.10,240.92 L668.51,242.53 L664.94,244.13 L661.40,245.72 L657.88,247.31 L654.39,248.90 L650.92,250.48 L647.48,252.05 L644.06,253.62 L640.67,255.19 L637.29,256.75 L633.95,258.30 L630.62,259.85 L627.32,261.40 L624.04,262.94 L620.79,264.47 L617.55,266.00 L614.34,267.53 L611.16,269.05 L607.99,270.57 L604.85,272.08 L601.73,273.58 L598.63,275.08 L595.55,276.58 L592.49,278.07 L589.46,279.56 L586.45,281.04 L583.45,282.52 L580.48,283.99 L577.53,285.46 L574.60,286.92 L571.69,288.38 L568.80,289.83 L565.93,291.28 L563.08,292.73 L560.25,294.17 L557.45,295.60 L554.66,297.03 L551.89,298.46 L549.13,299.88 L546.40,301.30 L543.69,302.71 L541.00,304.12 L538.32,305.53 L535.67,306.93 L533.03,308.32 L530.41,309.71 L527.81,311.10 L525.23,312.48 L522.66,313.86 L520.12,315.23 L517.59,316.60 L515.08,317.96 L512.58,319.33 L510.11,320.68 L507.65,322.03 L505.21,323.38 L502.78,324.72 L500.38,326.06 L497.99,327.40 L495.61,328.73 L493.26,330.05 L490.92,331.38 L488.59,332.69 L486.28,334.01 L483.99,335.32 L481.72,336.62 L479.46,337.93 L477.21,339.22 L474.98,340.52 L472.77,341.81 L470.57,343.09 L468.39,344.37 L466.22,345.65 L464.07,346.92 L461.94,348.19 L459.81,349.46 L457.71,350.72 L455.62,351.97 L453.54,353.23 L451.47,354.48 L449.43,355.72 L447.39,356.96 L445.37,358.20 L443.37,359.44 L441.37,360.67 L439.40,361.89 L437.43,363.11 L435.48,364.33 L433.55,365.55 L431.62,366.76 L429.71,367.97 L427.82,369.17 L425.93,370.37 L424.06,371.56 L422.21,372.76 L420.36,373.94 L418.53,375.13 L416.72,376.31 L414.91,377.49 L413.12,378.66 L411.34,379.83 L409.57,381.00 L407.81,382.16 L406.07,383.32 L404.34,384.47 L402.62,385.63 L400.91,386.77 L399.22,387.92 L397.54,389.06 L395.87,390.20 L394.21,391.33 L392.56,392.46 L390.92,393.59 L389.30,394.71 L387.68,395.83 L386.08,396.95 L384.49,398.06 L382.91,399.17 L381.34,400.28 L379.78,401.38 L378.24,402.48 L376.70,403.58 L375.17,404.67 L373.66,405.76 L372.16,406.84 L370.66,407.93 L369.18,409.01 L367.71,410.08 L366.24,411.15 L364.79,412.22 L363.35,413.29 L361.92,414.35 L360.50,415.41 L359.08,416.47 L357.68,417.52 L356.29,418.57 L354.91,419.62 L353.53,420.66 L352.17,421.70 L350.82,422.74 L349.47,423.77 L348.14,424.80 L346.81,425.83 L345.49,426.85 L344.19,427.87 L342.89,428.89 L341.60,429.90 L340.32,430.91 L339.05,431.92 L337.79,432.93 L336.53,433.93 L335.29,434.93 L334.05,435.93 L332.83,436.92 L331.61,437.91 L330.40,438.90 L329.20,439.88 L328.00,440.86 L326.82,441.84 L325.64,442.81 L324.47,443.78 L323.31,444.75 L322.16,445.72 L321.02,446.68 L319.88,447.64 L318.75,448.60 L317.63,449.55 L316.52,450.50 L315.42,451.45 L314.32,452.40 L313.23,453.34 L312.15,454.28 L311.07,455.22 L310.01,456.15 L308.95,457.08 L307.90,458.01 L306.85,458.94 L305.82,459.86 L304.79,460.78 L303.76,461.69 L302.75,462.61 L301.74,463.52 L300.74,464.43 L299.75,465.33 L298.76,466.24 L297.78,467.14 L296.80,468.04 L295.84,468.93 L294.88,469.82 L293.92,470.71 L292.98,471.60 L292.04,472.48 L291.10,473.36 L290.18,474.24 L289.26,475.12 L288.34,475.99 L287.44,476.86 L286.54,477.73 L285.64,478.60 L284.75,479.46 L283.87,480.32 L282.99,481.18 L282.12,482.03 L281.26,482.89 L280.40,483.74 L279.55,484.58 L280.50,483.88 L279.66,484.72 L278.83,485.56 L278.00,486.40 L277.18,487.23 L276.36,488.06 L275.55,488.89 L274.75,489.72 L273.95,490.54 L273.15,491.37 L272.36,492.19 L271.58,493.00 L270.80,493.82 L270.03,494.63 L269.26,495.44 L268.50,496.25 L267.75,497.05 L266.99,497.85 L266.25,498.65 L265.51,499.45 L264.77,500.25 L264.04,501.04 L263.32,501.83 L262.60,502.62 L261.88,503.40 L261.17,504.19 L260.47,504.97 L259.77,505.75 L259.07,506.52 L258.38,507.30 L257.70,508.07 L257.02,508.84 L256.34,509.61 L255.67,510.37 L255.01,511.13 L254.34,511.89 L253.69,512.65 L253.03,513.41 L252.39,514.16 L251.74,514.91 L251.10,515.66 L250.47,516.41 L249.84,517.15 L249.21,517.89 L248.59,518.63 L247.98,519.37 L247.36,520.11 L246.76,520.84 L246.15,521.57 L245.55,522.30 L244.96,523.03 L244.36,523.75 L243.78,524.47 L243.19,525.19 L242.62,525.91 L242.04,526.63 L241.47,527.34 L240.90,528.05 L240.34,528.76 L239.78,529.47 L239.22,530.18 L238.67,530.88 L238.13,531.58 L237.58,532.28 L237.04,532.98 L236.51,533.67 L235.97,534.37 L235.45,535.06 L234.92,535.75 L234.40,536.43 L233.88,537.12 L233.37,537.80 L232.86,538.48 L232.35,539.16 L231.85,539.84 L231.35,540.51 L230.85,541.18 L230.36,541.85 L229.87,542.52 L229.38,543.19 L228.90,543.85 L228.42,544.52 L227.95,545.18 L227.47,545.84 L227.00,546.49 L226.54,547.15 L226.08,547.80 L225.62,548.45 L225.16,549.10 L224.71,549.75 L224.26,550.40 L223.81,551.04 L223.37,551.68 L222.93,552.32 L222.49,552.96 L222.06,553.59 L221.62,554.23 L221.20,554.86 L220.77,555.49 L220.35,556.12 L219.93,556.75 L219.51,557.37 L219.10,557.99 L218.69,558.61 L218.28,559.23 L217.88,559.85 L217.47,560.47 L217.08,561.08 L216.68,561.69 L216.29,562.30 L215.89,562.91 L215.51,563.52 L215.12,564.12 L214.74,564.73 L214.36,565.33 L213.98,565.93 L213.61,566.52 L213.23,567.12 L212.86,567.71 L212.50,568.31 L212.13,568.90 L211.77,569.49 L211.41,570.07 L211.06,570.66 L210.70,571.24 L210.35,571.83 L210.00,572.41 L209.65,572.99 L209.31,573.56 L208.97,574.14 L208.63,574.71 L208.29,575.28 L207.95,575.85 L207.62,576.42 L207.29,576.99 L206.96,577.56 L206.64,578.12 L206.31,578.68 L205.99,579.24 L205.67,579.80 L205.36,580.36 L205.04,580.91 L204.73,581.47 L204.42,582.02 L204.11,582.57 L203.81,583.12 L203.50,583.67 L203.20,584.21 L202.90,584.76 L202.61,585.30 L202.31,585.84 L202.02,586.38 L201.73,586.92 L201.44,587.46 L201.15,587.99 L200.87,588.52 L200.58,589.06 L200.30,589.59 L200.02,590.12 L199.74,590.64 L199.47,591.17 L199.20,591.69 L198.92,592.21 L198.66,592.74 L198.39,593.26 L198.12,593.77 L197.86,594.29 L197.60,594.81 L197.34,595.32 L197.08,595.83 L196.82,596.34 L196.57,596.85 L196.31,597.36 L196.06,597.87 L195.81,598.37 L195.57,598.87 L195.32,599.38 L195.08,599.88 L194.83,600.37 L194.59,600.87 L194.35,601.37 L194.12,601.86 L193.88,602.36 L193.65,602.85 L193.41,603.34 L193.18,603.83 L192.95,604.32 L192.72,604.80 L192.50,605.29 L192.27,605.77 L192.05,606.25 L191.83,606.73 L191.61,607.21 L191.39,607.69 L191.18,608.17 L190.96,608.64 L190.75,609.11 L190.53,609.59 L190.32,610.06 L190.11,610.53 L189.91,611.00 L189.70,611.46 L189.49,611.93 L189.29,612.39 L189.09,612.86 L188.89,613.32 L188.69,613.78 L188.49,614.24 L188.29,614.69 L188.10,615.15 L187.91,615.61 L187.71,616.06 L187.52,616.51 L187.33,616.96 L187.14,617.41 L186.96,617.86 L186.77,618.31 L186.59,618.76 L186.40,619.20 L186.22,619.64 L186.04,620.09 L185.86,620.53 L185.68,620.97 L185.51,621.40 L185.33,621.84 L185.16,622.28 L184.98,622.71 L184.81,623.15 L184.64,623.58 L184.47,624.01 L184.30,624.44 L184.14,624.87 L183.97,625.29 L183.81,625.72 L183.64,626.15 L183.48,626.57 L183.32,626.99 L183.16,627.41 L183.00,627.83 L182.84,628.25 L182.68,628.67 L182.53,629.09 L182.37,629.50 L182.22,629.92 L182.07,630.33 L181.91,630.74 L181.76,631.15 L181.61,631.56 L181.47,631.97 L181.32,632.37 L181.17,632.78 L181.03,633.19 L180.88,633.59 L180.74,633.99 L180.60,634.39 L180.46,634.79 L180.32,635.19 L180.18,635.59 L180.04,635.99 L179.90,636.38 L179.76,636.78 L179.63,637.17 L179.49,637.56 L179.36,637.95 L179.23,638.34 L179.10,638.73 L178.97,639.12 L178.84,639.51 L178.71,639.89 L178.58,640.28 L178.45,640.66 L178.33,641.04 L178.20,641.43 L178.08,641.81 L177.95,642.19 L177.83,642.56 L177.71,642.94 L177.59,643.32 L177.47,643.69 L177.35,644.07 L177.23,644.44 L177.11,644.81 L176.99,645.18 L176.88,645.55 L176.76,645.92 L176.65,646.29 L176.53,646.65 L176.42,647.02 L176.31,647.38 L176.20,647.75 L176.09,648.11 L175.98,648.47 L175.87,648.83 L175.76,649.19 L175.65,649.55 L175.55,649.91 L175.44,650.26 L175.34,650.62 L175.23,650.97 L175.13,651.33 L175.02,651.68 L174.92,652.03 L174.82,652.38 L174.72,652.73 L174.62,653.08 L174.52,653.43 L174.42,653.77 L174.32,654.12 L174.23,654.46 L174.13,654.81 L174.03,655.15 L173.94,655.49 L173.84,655.83 L173.75,656.17 L173.66,656.51 L173.56,656.85 L173.47,657.19 L173.38,657.52 L173.29,657.86 L173.20,658.19 L173.11,658.52 L173.02,658.86 L172.93,659.19 L172.84,659.52 L172.76,659.85 L172.67,660.18 L172.59,660.50 L172.50,660.83 L172.42,661.16 L172.33,661.48 L172.25,661.80 L172.16,662.13 L172.08,662.45 L172.00,662.77 L171.92,663.09 L171.84,663.41 L171.76,663.73 L171.68,664.05 L171.60,664.36 L171.52,664.68 L171.44,665.00 L171.37,665.31 L171.29,665.62 L171.21,665.94 L171.14,666.25 L171.06,666.56 L170.99,666.87 L170.92,667.18 L170.84,667.48 L170.77,667.79 L170.70,668.10 L170.62,668.40 L170.55,668.71 L170.48,669.01 L170.41,669.32 L170.34,669.62 L170.27,669.92 L170.20,670.22 L170.13,670.52 L170.07,670.82 L170.00,671.12 L169.93,671.41 L169.86,671.71 L169.80,672.01 L169.73,672.30 L169.67,672.59 L169.60,672.89 L169.54,673.18 L169.47,673.47 L169.41,673.76 L169.35,674.05 L169.29,674.34 L169.22,674.63 L169.16,674.92 L169.10,675.20 L169.04,675.49 L168.98,675.77 L168.92,676.06 L168.86,676.34 L168.80,676.62 L168.74,676.91 L168.68,677.19 L168.62,677.47 L168.57,677.75 L168.51,678.03 L168.45,678.31 L168.40,678.58 L168.34,678.86 L168.29,679.13 L168.23,679.41 L168.18,679.68 L168.12,679.96 L168.07,680.23 L168.01,680.50 L167.96,680.77 L167.91,681.04 L167.86,681.31 L167.80,681.58 L167.75,681.85 L167.70,682.12 L167.65,682.39 L167.60,682.65 L166.40,685.20 L165.40,696.00 L164.30,706.90 L163.00,733.50 Z" fill="#00d200"/>
<path d="M159.20,728.50 L159.40,721.30 L159.50,714.10 L159.70,706.90 L160.10,696.00 L162.10,681.00 L162.43,677.73 L162.47,677.48 L162.51,677.23 L162.55,676.97 L162.59,676.71 L162.63,676.46 L162.67,676.20 L162.71,675.94 L162.76,675.68 L162.80,675.42 L162.84,675.16 L162.88,674.89 L162.92,674.63 L162.97,674.37 L163.01,674.10 L163.06,673.84 L163.10,673.57 L163.14,673.30 L163.19,673.04 L163.23,672.77 L163.28,672.50 L163.32,672.23 L163.37,671.96 L163.42,671.69 L163.46,671.41 L163.51,671.14 L163.56,670.86 L163.61,670.59 L163.65,670.31 L163.70,670.04 L163.75,669.76 L163.80,669.48 L163.85,669.20 L163.90,668.92 L163.95,668.64 L164.00,668.36 L164.05,668.08 L164.10,667.79 L164.15,667.51 L164.20,667.22 L164.26,666.94 L164.31,666.65 L164.36,666.36 L164.41,666.07 L164.47,665.78 L164.52,665.49 L164.58,665.20 L164.63,664.91 L164.69,664.62 L164.74,664.32 L164.80,664.03 L164.85,663.73 L164.91,663.44 L164.97,663.14 L165.02,662.84 L165.08,662.54 L165.14,662.24 L165.20,661.94 L165.26,661.64 L165.32,661.33 L165.38,661.03 L165.44,660.73 L165.50,660.42 L165.56,660.11 L165.62,659.81 L165.69,659.50 L165.75,659.19 L165.81,658.88 L165.87,658.57 L165.94,658.25 L166.00,657.94 L166.07,657.63 L166.13,657.31 L166.20,657.00 L166.26,656.68 L166.33,656.36 L166.40,656.04 L166.47,655.72 L166.53,655.40 L166.60,655.08 L166.67,654.76 L166.74,654.43 L166.81,654.11 L166.88,653.78 L166.95,653.45 L167.02,653.13 L167.10,652.80 L167.17,652.47 L167.24,652.14 L167.32,651.81 L167.39,651.47 L167.46,651.14 L167.54,650.80 L167.61,650.47 L167.69,650.13 L167.77,649.79 L167.84,649.45 L167.92,649.11 L168.00,648.77 L168.08,648.43 L168.16,648.09 L168.24,647.74 L168.32,647.40 L168.40,647.05 L168.48,646.71 L168.56,646.36 L168.65,646.01 L168.73,645.66 L168.82,645.31 L168.90,644.95 L168.99,644.60 L169.07,644.25 L169.16,643.89 L169.24,643.53 L169.33,643.18 L169.42,642.82 L169.51,642.46 L169.60,642.10 L169.69,641.73 L169.78,641.37 L169.87,641.00 L169.96,640.64 L170.06,640.27 L170.15,639.90 L170.24,639.54 L170.34,639.17 L170.43,638.79 L170.53,638.42 L170.63,638.05 L170.72,637.67 L170.82,637.30 L170.92,636.92 L171.02,636.54 L171.12,636.16 L171.22,635.78 L171.32,635.40 L171.42,635.02 L171.53,634.63 L171.63,634.25 L171.74,633.86 L171.84,633.48 L171.95,633.09 L172.05,632.70 L172.16,632.31 L172.27,631.91 L172.38,631.52 L172.49,631.13 L172.60,630.73 L172.71,630.33 L172.82,629.94 L172.93,629.54 L173.05,629.14 L173.16,628.73 L173.28,628.33 L173.39,627.93 L173.51,627.52 L173.63,627.11 L173.75,626.71 L173.87,626.30 L173.99,625.89 L174.11,625.47 L174.23,625.06 L174.35,624.65 L174.48,624.23 L174.60,623.81 L174.73,623.40 L174.85,622.98 L174.98,622.56 L175.11,622.13 L175.24,621.71 L175.37,621.29 L175.50,620.86 L175.63,620.43 L175.76,620.00 L175.89,619.57 L176.03,619.14 L176.16,618.71 L176.30,618.28 L176.44,617.84 L176.58,617.40 L176.72,616.97 L176.86,616.53 L177.00,616.09 L177.14,615.65 L177.28,615.20 L177.43,614.76 L177.57,614.31 L177.72,613.86 L177.87,613.42 L178.01,612.97 L178.16,612.51 L178.31,612.06 L178.47,611.61 L178.62,611.15 L178.77,610.69 L178.93,610.24 L179.08,609.78 L179.24,609.31 L179.40,608.85 L179.56,608.39 L179.72,607.92 L179.88,607.46 L180.04,606.99 L180.21,606.52 L180.37,606.05 L180.54,605.57 L180.70,605.10 L180.87,604.62 L181.04,604.15 L181.21,603.67 L181.38,603.19 L181.56,602.71 L181.73,602.22 L181.91,601.74 L182.08,601.25 L182.26,600.77 L182.44,600.28 L182.62,599.79 L182.80,599.29 L182.99,598.80 L183.17,598.31 L183.36,597.81 L183.54,597.31 L183.73,596.81 L183.92,596.31 L184.11,595.81 L184.31,595.30 L184.50,594.80 L184.69,594.29 L184.89,593.78 L185.09,593.27 L185.29,592.76 L185.49,592.24 L185.69,591.73 L185.89,591.21 L186.10,590.69 L186.31,590.17 L186.51,589.65 L186.72,589.13 L186.93,588.60 L187.15,588.08 L187.36,587.55 L187.58,587.02 L187.79,586.49 L188.01,585.96 L188.23,585.42 L188.45,584.88 L188.67,584.35 L188.90,583.81 L189.12,583.27 L189.35,582.72 L189.58,582.18 L189.81,581.63 L190.05,581.08 L190.28,580.53 L190.52,579.98 L190.75,579.43 L190.99,578.87 L191.23,578.32 L191.48,577.76 L191.72,577.20 L191.97,576.64 L192.21,576.07 L192.46,575.51 L192.71,574.94 L192.97,574.37 L193.22,573.80 L193.48,573.23 L193.74,572.66 L194.00,572.08 L194.26,571.50 L194.52,570.92 L194.79,570.34 L195.06,569.76 L195.32,569.18 L195.60,568.59 L195.87,568.00 L196.14,567.41 L196.42,566.82 L196.70,566.23 L196.98,565.63 L197.27,565.03 L197.55,564.43 L197.84,563.83 L198.13,563.23 L198.42,562.62 L198.71,562.02 L199.01,561.41 L199.30,560.80 L199.60,560.19 L199.90,559.57 L200.21,558.95 L200.51,558.34 L200.82,557.72 L201.13,557.09 L201.44,556.47 L201.76,555.84 L202.07,555.22 L202.39,554.59 L202.71,553.96 L203.04,553.32 L203.36,552.69 L203.69,552.05 L204.02,551.41 L204.35,550.77 L204.69,550.12 L205.03,549.48 L205.37,548.83 L205.71,548.18 L206.05,547.53 L206.40,546.88 L206.75,546.22 L207.10,545.56 L207.46,544.90 L207.81,544.24 L208.17,543.58 L208.53,542.91 L208.90,542.24 L209.26,541.57 L209.63,540.90 L210.01,540.23 L210.38,539.55 L210.76,538.87 L211.14,538.19 L211.52,537.51 L211.91,536.83 L212.29,536.14 L212.69,535.45 L213.08,534.76 L213.48,534.07 L213.87,533.37 L214.28,532.67 L214.68,531.97 L215.09,531.27 L215.50,530.57 L215.91,529.86 L216.33,529.15 L216.75,528.44 L217.17,527.73 L217.60,527.01 L218.02,526.30 L218.46,525.58 L218.89,524.85 L219.33,524.13 L219.77,523.40 L220.21,522.68 L220.66,521.94 L221.11,521.21 L221.56,520.48 L222.02,519.74 L222.48,519.00 L222.94,518.26 L223.40,517.51 L223.87,516.77 L224.35,516.02 L224.82,515.26 L225.30,514.51 L225.78,513.75 L226.27,513.00 L226.76,512.24 L227.25,511.47 L227.75,510.71 L228.25,509.94 L228.75,509.17 L229.26,508.40 L229.77,507.62 L230.28,506.84 L230.80,506.06 L231.32,505.28 L231.85,504.49 L232.37,503.71 L232.91,502.92 L233.44,502.13 L233.98,501.33 L234.53,500.53 L235.07,499.73 L235.62,498.93 L236.18,498.13 L236.74,497.32 L237.30,496.51 L237.87,495.70 L238.44,494.88 L239.02,494.07 L239.59,493.25 L240.18,492.42 L240.76,491.60 L241.36,490.77 L241.95,489.94 L242.55,489.11 L243.16,488.27 L243.76,487.44 L244.38,486.60 L244.99,485.75 L245.61,484.91 L246.24,484.06 L246.87,483.21 L247.50,482.35 L248.14,481.50 L248.79,480.64 L249.43,479.78 L250.09,478.91 L250.74,478.05 L251.41,477.18 L252.07,476.30 L252.74,475.43 L253.42,474.55 L254.10,473.67 L254.78,472.79 L255.47,471.90 L256.17,471.01 L256.87,470.12 L257.57,469.22 L258.28,468.33 L259.00,467.43 L259.72,466.52 L260.44,465.62 L261.17,464.71 L261.91,463.80 L262.65,462.89 L263.39,461.97 L264.15,461.05 L264.90,460.13 L265.66,459.20 L266.43,458.27 L267.20,457.34 L267.98,456.41 L268.76,455.47 L269.55,454.53 L270.35,453.59 L271.15,452.64 L271.95,451.69 L272.76,450.74 L273.58,449.78 L274.40,448.83 L275.23,447.87 L276.06,446.90 L276.90,445.93 L277.75,444.96 L278.60,443.99 L279.46,443.02 L280.32,442.04 L281.19,441.05 L282.07,440.07 L282.95,439.08 L283.84,438.09 L284.74,437.10 L285.64,436.10 L286.54,435.10 L287.46,434.09 L288.38,433.09 L289.30,432.08 L290.24,431.06 L291.18,430.05 L292.12,429.03 L293.08,428.01 L294.04,426.98 L295.00,425.95 L295.98,424.92 L296.96,423.88 L297.95,422.85 L298.94,421.80 L299.94,420.76 L300.95,419.71 L301.96,418.66 L302.99,417.60 L304.02,416.54 L305.05,415.48 L306.10,414.42 L307.15,413.35 L308.21,412.28 L309.27,411.20 L310.35,410.13 L313.23,407.49 L314.32,406.41 L315.42,405.32 L316.52,404.23 L317.63,403.13 L318.75,402.04 L319.88,400.93 L321.02,399.83 L322.16,398.72 L323.31,397.61 L324.47,396.49 L325.64,395.37 L326.82,394.25 L328.00,393.12 L329.20,391.99 L330.40,390.86 L331.61,389.72 L332.83,388.58 L334.05,387.44 L335.29,386.29 L336.53,385.14 L337.79,383.98 L339.05,382.83 L340.32,381.66 L341.60,380.50 L342.89,379.33 L344.19,378.16 L345.49,376.98 L346.81,375.80 L348.14,374.62 L349.47,373.43 L350.82,372.24 L352.17,371.04 L353.53,369.84 L354.91,368.64 L356.29,367.43 L357.68,366.22 L359.08,365.01 L360.50,363.79 L361.92,362.57 L363.35,361.35 L364.79,360.12 L366.24,358.88 L367.71,357.65 L369.18,356.41 L370.66,355.16 L372.16,353.91 L373.66,352.66 L375.17,351.41 L376.70,350.15 L378.24,348.88 L379.78,347.61 L381.34,346.34 L382.91,345.07 L384.49,343.79 L386.08,342.50 L387.68,341.22 L389.30,339.92 L390.92,338.63 L392.56,337.33 L394.21,336.02 L395.87,334.72 L397.54,333.40 L399.22,332.09 L400.91,330.77 L402.62,329.44 L404.34,328.11 L406.07,326.78 L407.81,325.44 L409.57,324.10 L411.34,322.76 L413.12,321.41 L414.91,320.06 L416.72,318.70 L418.53,317.34 L420.36,315.97 L422.21,314.60 L424.06,313.22 L425.93,311.84 L427.82,310.46 L429.71,309.07 L431.62,307.68 L433.55,306.29 L435.48,304.88 L437.43,303.48 L439.40,302.07 L441.37,300.66 L443.37,299.24 L445.37,297.81 L447.39,296.39 L449.43,294.96 L451.47,293.52 L453.54,292.08 L455.62,290.63 L457.71,289.18 L459.81,287.73 L461.94,286.27 L464.07,284.81 L466.22,283.34 L468.39,281.87 L470.57,280.39 L472.77,278.91 L474.98,277.42 L477.21,275.93 L479.46,274.44 L481.72,272.94 L483.99,271.43 L486.28,269.92 L488.59,268.41 L490.92,266.89 L493.26,265.37 L495.61,263.84 L497.99,262.31 L500.38,260.77 L502.78,259.23 L505.21,257.68 L507.65,256.13 L510.11,254.57 L512.58,253.01 L515.08,251.44 L517.59,249.87 L520.12,248.29 L522.66,246.71 L525.23,245.12 L527.81,243.53 L530.41,241.94 L533.03,240.33 L535.67,238.73 L538.32,237.12 L541.00,235.50 L543.69,233.88 L546.40,232.25 L549.13,230.62 L551.89,228.99 L554.66,227.34 L557.45,225.70 L560.25,224.05 L563.08,222.39 L565.93,220.73 L568.80,219.06 L571.69,217.39 L574.60,215.71 L577.53,214.03 L580.48,212.34 L583.45,210.64 L586.45,208.95 L589.46,207.24 L592.49,205.53 L595.55,203.82 L598.63,202.10 L601.73,200.37 L604.85,198.64 L607.99,196.91 L611.16,195.16 L614.34,193.42 L617.55,191.67 L620.79,189.91 L624.04,188.15 L627.32,186.38 L630.62,184.60 L633.95,182.82 L637.29,181.04 L640.67,179.25 L644.06,177.45 L647.48,175.65 L650.92,173.84 L654.39,172.03 L657.88,170.21 L661.40,168.39 L664.94,166.56 L668.51,164.72 L672.10,162.88 L675.72,161.03 L679.36,159.18 L683.03,157.32 L686.72,155.46 L690.44,153.59 L694.19,151.71 L697.96,149.83 L701.76,147.94 L705.58,146.05 L709.44,144.15 L713.32,142.24 L717.22,140.33 L721.16,138.41 L725.12,136.49 L729.11,134.56 L733.13,132.63 L737.18,130.69 L741.25,128.74 L745.36,126.79 L749.49,124.83 L753.65,122.86 L757.84,120.89 L762.06,118.91 L766.31,116.93 L770.59,114.94 L774.90,112.94 L779.24,110.94 L783.62,108.93 L788.02,106.92 L792.45,104.90 L796.92,102.87 L801.41,100.84 L805.94,98.80 L810.50,96.75 L815.09,94.70 L819.72,92.64 L824.37,90.58 L829.06,88.51 L833.78,86.43 L838.54,84.34 L843.33,82.25 L848.15,80.16 L853.01,78.05 L857.90,75.94 L862.82,73.83 L867.79,71.70 L872.78,69.57 L877.81,67.44 L882.88,65.29 L887.98,63.14 L893.12,60.99 L898.29,58.82 L903.50,56.66 L908.75,54.48 L914.03,52.30 L919.35,50.11 L924.71,47.91 L930.10,45.71 L935.54,43.50 L941.01,41.28 L946.52,39.06 L952.07,36.82 L957.66,34.59 L963.29,32.34 L968.96,30.09 L974.66,27.83 L980.41,25.57 L986.20,23.30 L992.03,21.02 L997.90,18.73 L997.90,21.83 L992.03,24.12 L986.20,26.40 L980.41,28.67 L974.66,30.93 L968.96,33.19 L963.29,35.44 L957.66,37.69 L952.07,39.92 L946.52,42.16 L941.01,44.38 L935.54,46.60 L930.10,48.81 L924.71,51.01 L919.35,53.21 L914.03,55.40 L908.75,57.58 L903.50,59.76 L898.29,61.92 L893.12,64.09 L887.98,66.24 L882.88,68.39 L877.81,70.54 L872.78,72.67 L867.79,74.80 L862.82,76.93 L857.90,79.04 L853.01,81.15 L848.15,83.26 L843.33,85.35 L838.54,87.44 L833.78,89.53 L829.06,91.61 L824.37,93.68 L819.72,95.74 L815.09,97.80 L810.50,99.85 L805.94,101.90 L801.41,103.94 L796.92,105.97 L792.45,108.00 L788.02,110.02 L783.62,112.03 L779.24,114.04 L774.90,116.04 L770.59,118.04 L766.31,120.03 L762.06,122.01 L757.84,123.99 L753.65,125.96 L749.49,127.93 L745.36,129.89 L741.25,131.84 L737.18,133.79 L733.13,135.73 L729.11,137.66 L725.12,139.59 L721.16,141.51 L717.22,143.43 L713.32,145.34 L709.44,147.25 L705.58,149.15 L701.76,151.04 L697.96,152.93 L694.19,154.81 L690.44,156.69 L686.72,158.56 L683.03,160.42 L679.36,162.28 L675.72,164.13 L672.10,165.98 L668.51,167.82 L664.94,169.66 L661.40,171.49 L657.88,173.31 L654.39,175.13 L650.92,176.94 L647.48,178.75 L644.06,180.55 L640.67,182.35 L637.29,184.14 L633.95,185.92 L630.62,187.70 L627.32,189.48 L624.04,191.25 L620.79,193.01 L617.55,194.77 L614.34,196.52 L611.16,198.26 L607.99,200.01 L604.85,201.74 L601.73,203.47 L598.63,205.20 L595.55,206.92 L592.49,208.63 L589.46,210.34 L586.45,212.05 L583.45,213.74 L580.48,215.44 L577.53,217.13 L574.60,218.81 L571.69,220.49 L568.80,222.16 L565.93,223.83 L563.08,225.49 L560.25,227.15 L557.45,228.80 L554.66,230.44 L551.89,232.09 L549.13,233.72 L546.40,235.35 L543.69,236.98 L541.00,238.60 L538.32,240.22 L535.67,241.83 L533.03,243.43 L530.41,245.04 L527.81,246.63 L525.23,248.22 L522.66,249.81 L520.12,251.39 L517.59,252.97 L515.08,254.54 L512.58,256.11 L510.11,257.67 L507.65,259.23 L505.21,260.78 L502.78,262.33 L500.38,263.87 L497.99,265.41 L495.61,266.94 L493.26,268.47 L490.92,269.99 L488.59,271.51 L486.28,273.02 L483.99,274.53 L481.72,276.04 L479.46,277.54 L477.21,279.03 L474.98,280.52 L472.77,282.01 L470.57,283.49 L468.39,284.97 L466.22,286.44 L464.07,287.91 L461.94,289.37 L459.81,290.83 L457.71,292.28 L455.62,293.73 L453.54,295.18 L451.47,296.62 L449.43,298.06 L447.39,299.49 L445.37,300.91 L443.37,302.34 L441.37,303.76 L439.40,305.17 L437.43,306.58 L435.48,307.98 L433.55,309.39 L431.62,310.78 L429.71,312.17 L427.82,313.56 L425.93,314.94 L424.06,316.32 L422.21,317.70 L420.36,319.07 L418.53,320.44 L416.72,321.80 L414.91,323.16 L413.12,324.51 L411.34,325.86 L409.57,327.20 L407.81,328.54 L406.07,329.88 L404.34,331.21 L402.62,332.54 L400.91,333.87 L399.22,335.19 L397.54,336.50 L395.87,337.82 L394.21,339.12 L392.56,340.43 L390.92,341.73 L389.30,343.02 L387.68,344.32 L386.08,345.60 L384.49,346.89 L382.91,348.17 L381.34,349.44 L379.78,350.71 L378.24,351.98 L376.70,353.25 L375.17,354.51 L373.66,355.76 L372.16,357.01 L370.66,358.26 L369.18,359.51 L367.71,360.75 L366.24,361.98 L364.79,363.22 L363.35,364.45 L361.92,365.67 L360.50,366.89 L359.08,368.11 L357.68,369.32 L356.29,370.53 L354.91,371.74 L353.53,372.94 L352.17,374.14 L350.82,375.34 L349.47,376.53 L348.14,377.72 L346.81,378.90 L345.49,380.08 L344.19,381.26 L342.89,382.43 L341.60,383.60 L340.32,384.76 L339.05,385.93 L337.79,387.08 L336.53,388.24 L335.29,389.39 L334.05,390.54 L332.83,391.68 L331.61,392.82 L330.40,393.96 L329.20,395.09 L328.00,396.22 L326.82,397.35 L325.64,398.47 L324.47,399.59 L323.31,400.71 L322.16,401.82 L321.02,402.93 L319.88,404.03 L318.75,405.14 L317.63,406.23 L316.52,407.33 L315.42,408.42 L314.32,409.51 L313.23,410.59 L313.95,410.13 L312.87,411.20 L311.81,412.28 L310.75,413.35 L309.70,414.42 L308.65,415.48 L307.62,416.54 L306.59,417.60 L305.56,418.66 L304.55,419.71 L303.54,420.76 L302.54,421.80 L301.55,422.85 L300.56,423.88 L299.58,424.92 L298.60,425.95 L297.64,426.98 L296.68,428.01 L295.72,429.03 L294.78,430.05 L293.84,431.06 L292.90,432.08 L291.98,433.09 L291.06,434.09 L290.14,435.10 L289.24,436.10 L288.34,437.10 L287.44,438.09 L286.55,439.08 L285.67,440.07 L284.79,441.05 L283.92,442.04 L283.06,443.02 L282.20,443.99 L281.35,444.96 L280.50,445.93 L279.66,446.90 L278.83,447.87 L278.00,448.83 L277.18,449.78 L276.36,450.74 L275.55,451.69 L274.75,452.64 L273.95,453.59 L273.15,454.53 L272.36,455.47 L271.58,456.41 L270.80,457.34 L270.03,458.27 L269.26,459.20 L268.50,460.13 L267.75,461.05 L266.99,461.97 L266.25,462.89 L265.51,463.80 L264.77,464.71 L264.04,465.62 L263.32,466.52 L262.60,467.43 L261.88,468.33 L261.17,469.22 L260.47,470.12 L259.77,471.01 L259.07,471.90 L258.38,472.79 L257.70,473.67 L257.02,474.55 L256.34,475.43 L255.67,476.30 L255.01,477.18 L254.34,478.05 L253.69,478.91 L253.03,479.78 L252.39,480.64 L251.74,481.50 L251.10,482.35 L250.47,483.21 L249.84,484.06 L249.21,484.91 L248.59,485.75 L247.98,486.60 L247.36,487.44 L246.76,488.27 L246.15,489.11 L245.55,489.94 L244.96,490.77 L244.36,491.60 L243.78,492.42 L243.19,493.25 L242.62,494.07 L242.04,494.88 L241.47,495.70 L240.90,496.51 L240.34,497.32 L239.78,498.13 L239.22,498.93 L238.67,499.73 L238.13,500.53 L237.58,501.33 L237.04,502.13 L236.51,502.92 L235.97,503.71 L235.45,504.49 L234.92,505.28 L234.40,506.06 L233.88,506.84 L233.37,507.62 L232.86,508.40 L232.35,509.17 L231.85,509.94 L231.35,510.71 L230.85,511.47 L230.36,512.24 L229.87,513.00 L229.38,513.75 L228.90,514.51 L228.42,515.26 L227.95,516.02 L227.47,516.77 L227.00,517.51 L226.54,518.26 L226.08,519.00 L225.62,519.74 L225.16,520.48 L224.71,521.21 L224.26,521.94 L223.81,522.68 L223.37,523.40 L222.93,524.13 L222.49,524.85 L222.06,525.58 L221.62,526.30 L221.20,527.01 L220.77,527.73 L220.35,528.44 L219.93,529.15 L219.51,529.86 L219.10,530.57 L218.69,531.27 L218.28,531.97 L217.88,532.67 L217.47,533.37 L217.08,534.07 L216.68,534.76 L216.29,535.45 L215.89,536.14 L215.51,536.83 L215.12,537.51 L214.74,538.19 L214.36,538.87 L213.98,539.55 L213.61,540.23 L213.23,540.90 L212.86,541.57 L212.50,542.24 L212.13,542.91 L211.77,543.58 L211.41,544.24 L211.06,544.90 L210.70,545.56 L210.35,546.22 L210.00,546.88 L209.65,547.53 L209.31,548.18 L208.97,548.83 L208.63,549.48 L208.29,550.12 L207.95,550.77 L207.62,551.41 L207.29,552.05 L206.96,552.69 L206.64,553.32 L206.31,553.96 L205.99,554.59 L205.67,555.22 L205.36,555.84 L205.04,556.47 L204.73,557.09 L204.42,557.72 L204.11,558.34 L203.81,558.95 L203.50,559.57 L203.20,560.19 L202.90,560.80 L202.61,561.41 L202.31,562.02 L202.02,562.62 L201.73,563.23 L201.44,563.83 L201.15,564.43 L200.87,565.03 L200.58,565.63 L200.30,566.23 L200.02,566.82 L199.74,567.41 L199.47,568.00 L199.20,568.59 L198.92,569.18 L198.66,569.76 L198.39,570.34 L198.12,570.92 L197.86,571.50 L197.60,572.08 L197.34,572.66 L197.08,573.23 L196.82,573.80 L196.57,574.37 L196.31,574.94 L196.06,575.51 L195.81,576.07 L195.57,576.64 L195.32,577.20 L195.08,577.76 L194.83,578.32 L194.59,578.87 L194.35,579.43 L194.12,579.98 L193.88,580.53 L193.65,581.08 L193.41,581.63 L193.18,582.18 L192.95,582.72 L192.72,583.27 L192.50,583.81 L192.27,584.35 L192.05,584.88 L191.83,585.42 L191.61,585.96 L191.39,586.49 L191.18,587.02 L190.96,587.55 L190.75,588.08 L190.53,588.60 L190.32,589.13 L190.11,589.65 L189.91,590.17 L189.70,590.69 L189.49,591.21 L189.29,591.73 L189.09,592.24 L188.89,592.76 L188.69,593.27 L188.49,593.78 L188.29,594.29 L188.10,594.80 L187.91,595.30 L187.71,595.81 L187.52,596.31 L187.33,596.81 L187.14,597.31 L186.96,597.81 L186.77,598.31 L186.59,598.80 L186.40,599.29 L186.22,599.79 L186.04,600.28 L185.86,600.77 L185.68,601.25 L185.51,601.74 L185.33,602.22 L185.16,602.71 L184.98,603.19 L184.81,603.67 L184.64,604.15 L184.47,604.62 L184.30,605.10 L184.14,605.57 L183.97,606.05 L183.81,606.52 L183.64,606.99 L183.48,607.46 L183.32,607.92 L183.16,608.39 L183.00,608.85 L182.84,609.31 L182.68,609.78 L182.53,610.24 L182.37,610.69 L182.22,611.15 L182.07,611.61 L181.91,612.06 L181.76,612.51 L181.61,612.97 L181.47,613.42 L181.32,613.86 L181.17,614.31 L181.03,614.76 L180.88,615.20 L180.74,615.65 L180.60,616.09 L180.46,616.53 L180.32,616.97 L180.18,617.40 L180.04,617.84 L179.90,618.28 L179.76,618.71 L179.63,619.14 L179.49,619.57 L179.36,620.00 L179.23,620.43 L179.10,620.86 L178.97,621.29 L178.84,621.71 L178.71,622.13 L178.58,622.56 L178.45,622.98 L178.33,623.40 L178.20,623.81 L178.08,624.23 L177.95,624.65 L177.83,625.06 L177.71,625.47 L177.59,625.89 L177.47,626.30 L177.35,626.71 L177.23,627.11 L177.11,627.52 L176.99,627.93 L176.88,628.33 L176.76,628.73 L176.65,629.14 L176.53,629.54 L176.42,629.94 L176.31,630.33 L176.20,630.73 L176.09,631.13 L175.98,631.52 L175.87,631.91 L175.76,632.31 L175.65,632.70 L175.55,633.09 L175.44,633.48 L175.34,633.86 L175.23,634.25 L175.13,634.63 L175.02,635.02 L174.92,635.40 L174.82,635.78 L174.72,636.16 L174.62,636.54 L174.52,636.92 L174.42,637.30 L174.32,637.67 L174.23,638.05 L174.13,638.42 L174.03,638.79 L173.94,639.17 L173.84,639.54 L173.75,639.90 L173.66,640.27 L173.56,640.64 L173.47,641.00 L173.38,641.37 L173.29,641.73 L173.20,642.10 L173.11,642.46 L173.02,642.82 L172.93,643.18 L172.84,643.53 L172.76,643.89 L172.67,644.25 L172.59,644.60 L172.50,644.95 L172.42,645.31 L172.33,645.66 L172.25,646.01 L172.16,646.36 L172.08,646.71 L172.00,647.05 L171.92,647.40 L171.84,647.74 L171.76,648.09 L171.68,648.43 L171.60,648.77 L171.52,649.11 L171.44,649.45 L171.37,649.79 L171.29,650.13 L171.21,650.47 L171.14,650.80 L171.06,651.14 L170.99,651.47 L170.92,651.81 L170.84,652.14 L170.77,652.47 L170.70,652.80 L170.62,653.13 L170.55,653.45 L170.48,653.78 L170.41,654.11 L170.34,654.43 L170.27,654.76 L170.20,655.08 L170.13,655.40 L170.07,655.72 L170.00,656.04 L169.93,656.36 L169.86,656.68 L169.80,657.00 L169.73,657.31 L169.67,657.63 L169.60,657.94 L169.54,658.25 L169.47,658.57 L169.41,658.88 L169.35,659.19 L169.29,659.50 L169.22,659.81 L169.16,660.11 L169.10,660.42 L169.04,660.73 L168.98,661.03 L168.92,661.33 L168.86,661.64 L168.80,661.94 L168.74,662.24 L168.68,662.54 L168.62,662.84 L168.57,663.14 L168.51,663.44 L168.45,663.73 L168.40,664.03 L168.34,664.32 L168.29,664.62 L168.23,664.91 L168.18,665.20 L168.12,665.49 L168.07,665.78 L168.01,666.07 L167.96,666.36 L167.91,666.65 L167.86,666.94 L167.80,667.22 L167.75,667.51 L167.70,667.79 L167.65,668.08 L167.60,668.36 L167.55,668.64 L167.50,668.92 L167.45,669.20 L167.40,669.48 L167.35,669.76 L167.30,670.04 L167.25,670.31 L167.21,670.59 L167.16,670.86 L167.11,671.14 L167.06,671.41 L167.02,671.69 L166.97,671.96 L166.92,672.23 L166.88,672.50 L166.83,672.77 L166.79,673.04 L166.74,673.30 L166.70,673.57 L166.66,673.84 L166.61,674.10 L166.57,674.37 L166.52,674.63 L166.48,674.89 L166.44,675.16 L166.40,675.42 L166.36,675.68 L166.31,675.94 L166.27,676.20 L166.23,676.46 L166.19,676.71 L166.15,676.97 L166.11,677.23 L166.07,677.48 L166.03,677.73 L165.70,681.00 L163.70,696.00 L163.30,706.90 L163.10,714.10 L163.00,721.30 L162.80,728.50 Z" fill="#1e1eff"/>
</g></g>
<line x1="159.0" y1="717.30" x2="169" y2="717.30" stroke="#000" stroke-width="1.7"/>
<line x1="159.0" y1="695.80" x2="169" y2="695.80" stroke="#000" stroke-width="1.7"/>
<line x1="159.0" y1="675.75" x2="174.9" y2="675.75" stroke="#000" stroke-width="3.7"/>
<line x1="159.0" y1="654.30" x2="169" y2="654.30" stroke="#000" stroke-width="1.7"/>
<line x1="159.0" y1="632.80" x2="169" y2="632.80" stroke="#000" stroke-width="1.7"/>
<line x1="159.0" y1="611.30" x2="169" y2="611.30" stroke="#000" stroke-width="1.7"/>
<line x1="159.0" y1="589.90" x2="169" y2="589.90" stroke="#000" stroke-width="1.7"/>
<line x1="159.0" y1="568.10" x2="174.9" y2="568.10" stroke="#000" stroke-width="3.7"/>
<line x1="159.0" y1="548.30" x2="169" y2="548.30" stroke="#000" stroke-width="1.7"/>
<line x1="159.0" y1="526.80" x2="169" y2="526.80" stroke="#000" stroke-width="1.7"/>
<line x1="159.0" y1="505.40" x2="169" y2="505.40" stroke="#000" stroke-width="1.7"/>
<line x1="159.0" y1="483.90" x2="169" y2="483.90" stroke="#000" stroke-width="1.7"/>
<line x1="159.0" y1="462.05" x2="174.9" y2="462.05" stroke="#000" stroke-width="3.7"/>
<line x1="159.0" y1="440.80" x2="169" y2="440.80" stroke="#000" stroke-width="1.7"/>
<line x1="159.0" y1="420.60" x2="169" y2="420.60" stroke="#000" stroke-width="1.7"/>
<line x1="159.0" y1="399.10" x2="169" y2="399.10" stroke="#000" stroke-width="1.7"/>
<line x1="159.0" y1="377.40" x2="169" y2="377.40" stroke="#000" stroke-width="1.7"/>
<line x1="159.0" y1="356.10" x2="174.9" y2="356.10" stroke="#000" stroke-width="3.7"/>
<line x1="159.0" y1="334.70" x2="169" y2="334.70" stroke="#000" stroke-width="1.7"/>
<line x1="159.0" y1="313.20" x2="169" y2="313.20" stroke="#000" stroke-width="1.7"/>
<line x1="159.0" y1="291.80" x2="169" y2="291.80" stroke="#000" stroke-width="1.7"/>
<line x1="159.0" y1="271.60" x2="169" y2="271.60" stroke="#000" stroke-width="1.7"/>
<line x1="159.0" y1="250.00" x2="174.9" y2="250.00" stroke="#000" stroke-width="3.7"/>
<line x1="159.0" y1="228.50" x2="169" y2="228.50" stroke="#000" stroke-width="1.7"/>
<line x1="159.0" y1="207.10" x2="169" y2="207.10" stroke="#000" stroke-width="1.7"/>
<line x1="159.0" y1="185.80" x2="169" y2="185.80" stroke="#000" stroke-width="1.7"/>
<line x1="159.0" y1="164.30" x2="169" y2="164.30" stroke="#000" stroke-width="1.7"/>
<line x1="159.0" y1="143.90" x2="174.9" y2="143.90" stroke="#000" stroke-width="3.7"/>
<line x1="159.0" y1="122.60" x2="169" y2="122.60" stroke="#000" stroke-width="1.7"/>
<line x1="159.0" y1="101.10" x2="169" y2="101.10" stroke="#000" stroke-width="1.7"/>
<line x1="159.0" y1="79.30" x2="169" y2="79.30" stroke="#000" stroke-width="1.7"/>
<line x1="159.0" y1="58.10" x2="169" y2="58.10" stroke="#000" stroke-width="1.7"/>
<line x1="196.75" y1="736.0" x2="196.75" y2="728" stroke="#000" stroke-width="1.9"/>
<line x1="234.90" y1="736.0" x2="234.90" y2="728" stroke="#000" stroke-width="1.9"/>
<line x1="273.05" y1="736.0" x2="273.05" y2="728" stroke="#000" stroke-width="1.9"/>
<line x1="311.20" y1="736.0" x2="311.20" y2="721.9" stroke="#000" stroke-width="3.7"/>
<line x1="349.35" y1="736.0" x2="349.35" y2="728" stroke="#000" stroke-width="1.9"/>
<line x1="387.50" y1="736.0" x2="387.50" y2="728" stroke="#000" stroke-width="1.9"/>
<line x1="425.65" y1="736.0" x2="425.65" y2="728" stroke="#000" stroke-width="1.9"/>
<line x1="463.80" y1="736.0" x2="463.80" y2="721.9" stroke="#000" stroke-width="3.7"/>
<line x1="501.95" y1="736.0" x2="501.95" y2="728" stroke="#000" stroke-width="1.9"/>
<line x1="540.10" y1="736.0" x2="540.10" y2="728" stroke="#000" stroke-width="1.9"/>
<line x1="578.25" y1="736.0" x2="578.25" y2="728" stroke="#000" stroke-width="1.9"/>
<line x1="616.40" y1="736.0" x2="616.40" y2="721.9" stroke="#000" stroke-width="3.7"/>
<line x1="654.55" y1="736.0" x2="654.55" y2="728" stroke="#000" stroke-width="1.9"/>
<line x1="692.70" y1="736.0" x2="692.70" y2="728" stroke="#000" stroke-width="1.9"/>
<line x1="730.85" y1="736.0" x2="730.85" y2="728" stroke="#000" stroke-width="1.9"/>
<line x1="769.00" y1="736.0" x2="769.00" y2="721.9" stroke="#000" stroke-width="3.7"/>
<line x1="807.15" y1="736.0" x2="807.15" y2="728" stroke="#000" stroke-width="1.9"/>
<line x1="845.30" y1="736.0" x2="845.30" y2="728" stroke="#000" stroke-width="1.9"/>
<line x1="883.45" y1="736.0" x2="883.45" y2="728" stroke="#000" stroke-width="1.9"/>
<line x1="921.60" y1="736.0" x2="921.60" y2="721.9" stroke="#000" stroke-width="3.7"/>
<line x1="959.75" y1="736.0" x2="959.75" y2="728" stroke="#000" stroke-width="1.9"/>
<path d="M158.3,35.0 H992.8 V38.6 H158.3 Z M157.1,36.9 H160.9 V737.6 H157.1 Z M992.1,35.9 H995.8 V735.6 H992.1 Z M158.4,734.2 H994.0 V737.8 H158.4 Z" fill="#000"/>
<g>
<text transform="translate(108.31,685.40) scale(0.9570,1.0000)" font-family='"Liberation Sans",sans-serif' font-weight="normal" font-size="30.8">0</text>
<text transform="translate(124.71,685.40) scale(0.9570,1.0000)" font-family='"Liberation Sans",sans-serif' font-weight="normal" font-size="30.8">.</text>
<text transform="translate(132.89,685.40) scale(0.9570,1.0000)" font-family='"Liberation Sans",sans-serif' font-weight="normal" font-size="30.8">5</text>
<path transform="translate(110.23,579.30) scale(0.01439,-0.01504)" d="M515,0 L515,1237 L197,1010 L197,1180 L530,1409 L696,1409 L696,0 Z"/>
<text transform="translate(124.62,579.30) scale(0.9570,1.0000)" font-family='"Liberation Sans",sans-serif' font-weight="normal" font-size="30.8">.</text>
<text transform="translate(132.81,579.30) scale(0.9570,1.0000)" font-family='"Liberation Sans",sans-serif' font-weight="normal" font-size="30.8">0</text>
<path transform="translate(110.32,473.30) scale(0.01439,-0.01504)" d="M515,0 L515,1237 L197,1010 L197,1180 L530,1409 L696,1409 L696,0 Z"/>
<text transform="translate(124.71,473.30) scale(0.9570,1.0000)" font-family='"Liberation Sans",sans-serif' font-weight="normal" font-size="30.8">.</text>
<text transform="translate(132.89,473.30) scale(0.9570,1.0000)" font-family='"Liberation Sans",sans-serif' font-weight="normal" font-size="30.8">5</text>
<text transform="translate(108.23,367.05) scale(0.9570,1.0000)" font-family='"Liberation Sans",sans-serif' font-weight="normal" font-size="30.8">2</text>
<text transform="translate(124.62,367.05) scale(0.9570,1.0000)" font-family='"Liberation Sans",sans-serif' font-weight="normal" font-size="30.8">.</text>
<text transform="translate(132.81,367.05) scale(0.9570,1.0000)" font-family='"Liberation Sans",sans-serif' font-weight="normal" font-size="30.8">0</text>
<text transform="translate(108.31,259.80) scale(0.9570,1.0000)" font-family='"Liberation Sans",sans-serif' font-weight="normal" font-size="30.8">2</text>
<text transform="translate(124.71,259.80) scale(0.9570,1.0000)" font-family='"Liberation Sans",sans-serif' font-weight="normal" font-size="30.8">.</text>
<text transform="translate(132.89,259.80) scale(0.9570,1.0000)" font-family='"Liberation Sans",sans-serif' font-weight="normal" font-size="30.8">5</text>
<text transform="translate(108.23,153.70) scale(0.9570,1.0000)" font-family='"Liberation Sans",sans-serif' font-weight="normal" font-size="30.8">3</text>
<text transform="translate(124.62,153.70) scale(0.9570,1.0000)" font-family='"Liberation Sans",sans-serif' font-weight="normal" font-size="30.8">.</text>
<text transform="translate(132.81,153.70) scale(0.9570,1.0000)" font-family='"Liberation Sans",sans-serif' font-weight="normal" font-size="30.8">0</text>
<text transform="translate(108.31,47.50) scale(0.9570,1.0000)" font-family='"Liberation Sans",sans-serif' font-weight="normal" font-size="30.8">3</text>
<text transform="translate(124.71,47.50) scale(0.9570,1.0000)" font-family='"Liberation Sans",sans-serif' font-weight="normal" font-size="30.8">.</text>
<text transform="translate(132.89,47.50) scale(0.9570,1.0000)" font-family='"Liberation Sans",sans-serif' font-weight="normal" font-size="30.8">5</text>
<text transform="translate(285.85,765.30) scale(0.9570,1.0000)" font-family='"Liberation Sans",sans-serif' font-weight="normal" font-size="30.8">2</text>
<text transform="translate(302.24,765.30) scale(0.9570,1.0000)" font-family='"Liberation Sans",sans-serif' font-weight="normal" font-size="30.8">0</text>
<text transform="translate(318.63,765.30) scale(0.9570,1.0000)" font-family='"Liberation Sans",sans-serif' font-weight="normal" font-size="30.8">0</text>
<text transform="translate(438.85,765.30) scale(0.9570,1.0000)" font-family='"Liberation Sans",sans-serif' font-weight="normal" font-size="30.8">4</text>
<text transform="translate(455.24,765.30) scale(0.9570,1.0000)" font-family='"Liberation Sans",sans-serif' font-weight="normal" font-size="30.8">0</text>
<text transform="translate(471.63,765.30) scale(0.9570,1.0000)" font-family='"Liberation Sans",sans-serif' font-weight="normal" font-size="30.8">0</text>
<text transform="translate(591.04,765.30) scale(0.9570,1.0000)" font-family='"Liberation Sans",sans-serif' font-weight="normal" font-size="30.8">6</text>
<text transform="translate(607.43,765.30) scale(0.9570,1.0000)" font-family='"Liberation Sans",sans-serif' font-weight="normal" font-size="30.8">0</text>
<text transform="translate(623.82,765.30) scale(0.9570,1.0000)" font-family='"Liberation Sans",sans-serif' font-weight="normal" font-size="30.8">0</text>
<text transform="translate(743.75,765.30) scale(0.9570,1.0000)" font-family='"Liberation Sans",sans-serif' font-weight="normal" font-size="30.8">8</text>
<text transform="translate(760.14,765.30) scale(0.9570,1.0000)" font-family='"Liberation Sans",sans-serif' font-weight="normal" font-size="30.8">0</text>
<text transform="translate(776.53,765.30) scale(0.9570,1.0000)" font-family='"Liberation Sans",sans-serif' font-weight="normal" font-size="30.8">0</text>
<path transform="translate(890.07,765.30) scale(0.01439,-0.01504)" d="M515,0 L515,1237 L197,1010 L197,1180 L530,1409 L696,1409 L696,0 Z"/>
<text transform="translate(904.46,765.30) scale(0.9570,1.0000)" font-family='"Liberation Sans",sans-serif' font-weight="normal" font-size="30.8">0</text>
<text transform="translate(920.86,765.30) scale(0.9570,1.0000)" font-family='"Liberation Sans",sans-serif' font-weight="normal" font-size="30.8">0</text>
<text transform="translate(937.25,765.30) scale(0.9570,1.0000)" font-family='"Liberation Sans",sans-serif' font-weight="normal" font-size="30.8">0</text>
</g>
<rect x="631.1" y="516.7" width="295.4" height="133.5" fill="#fff" stroke="#000" stroke-width="1.6"/>
<line x1="649.3" y1="548.1" x2="736.9" y2="548.1" stroke="#1e1eff" stroke-width="3.2"/>
<line x1="649.3" y1="586.0" x2="736.9" y2="586.0" stroke="#00d200" stroke-width="3.2"/>
<line x1="649.3" y1="621.4" x2="736.9" y2="621.4" stroke="#d20000" stroke-width="3.2"/>
<g>
<text transform="translate(549.46,806.00) scale(1.1018,1.0900)" font-family='"Liberation Sans",sans-serif' font-weight="normal" font-size="29.5" stroke="#000" stroke-width="1.271" stroke-linejoin="round">t</text>
<text transform="translate(568.17,806.00) scale(0.9893,1.0000)" font-family='"Liberation Sans",sans-serif' font-weight="normal" font-size="29.5" stroke="#000" stroke-width="1.415" stroke-linejoin="round">[</text>
<text transform="translate(576.84,806.00) scale(0.9799,1.0000)" font-family='"Liberation Sans",sans-serif' font-weight="normal" font-size="29.5" stroke="#000" stroke-width="1.429" stroke-linejoin="round">d</text>
<text transform="translate(595.95,806.00) scale(0.8870,1.0000)" font-family='"Liberation Sans",sans-serif' font-weight="normal" font-size="29.5" stroke="#000" stroke-width="1.578" stroke-linejoin="round">]</text>
<text transform="translate(83.20,423.88) rotate(-90) scale(1.1390,1)" font-family='"Liberation Sans",sans-serif' font-weight="normal" font-size="29.5" stroke="#000" stroke-width="1.229" stroke-linejoin="round">r</text>
<text transform="translate(92.20,413.87) rotate(-90) scale(0.9012,1)" font-family='"Liberation Sans",sans-serif' font-weight="normal" font-size="19" stroke="#000" stroke-width="0.888" stroke-linejoin="round">d</text>
<text transform="translate(83.20,393.02) rotate(-90) scale(0.9382,1)" font-family='"Liberation Sans",sans-serif' font-weight="normal" font-size="29.5" stroke="#000" stroke-width="1.492" stroke-linejoin="round">[</text>
<text transform="translate(83.20,383.86) rotate(-90) scale(0.9240,1)" font-family='"Liberation Sans",sans-serif' font-weight="normal" font-size="29.5" stroke="#000" stroke-width="1.515" stroke-linejoin="round">m</text>
<text transform="translate(83.20,357.27) rotate(-90) scale(0.9382,1)" font-family='"Liberation Sans",sans-serif' font-weight="normal" font-size="29.5" stroke="#000" stroke-width="1.492" stroke-linejoin="round">]</text>
<path d="M217.3,88.6 C217.4,86.2 218.8,85.0 220.7,85.0 C222.3,85.0 222.9,86.6 223.3,89.2 L224.1,93.6 L225.4,97.8 C226.1,100.9 226.9,103.3 228.3,103.3 C229.6,103.3 230.3,101.9 230.4,99.6" fill="none" stroke="#000" stroke-width="1.7" stroke-linecap="round"/>
<path d="M222.9,92.2 L216.4,103.5" fill="none" stroke="#000" stroke-width="1.8" stroke-linecap="round"/>
<path d="M222.0,85.6 L224.4,93.4" fill="none" stroke="#000" stroke-width="2.3" stroke-linecap="round"/>
<text transform="translate(239.05,101.22) scale(0.9698,0.8415)" font-family='"Liberation Sans",sans-serif' font-weight="normal" font-size="29.5" stroke="#000" stroke-width="1.444" stroke-linejoin="round">=</text>
<path transform="translate(266.95,103.90) scale(0.01423,-0.01440)" d="M515,0 L515,1237 L197,1010 L197,1180 L530,1409 L696,1409 L696,0 Z" stroke="#000" stroke-width="98.394" stroke-linejoin="round"/>
<text transform="translate(283.56,103.90) scale(1.0000,1.0000)" font-family='"Liberation Sans",sans-serif' font-weight="normal" font-size="29.5" stroke="#000" stroke-width="1.400" stroke-linejoin="round">.</text>
<text transform="translate(294.10,103.90) scale(0.8687,1.0000)" font-family='"Liberation Sans",sans-serif' font-weight="normal" font-size="29.5" stroke="#000" stroke-width="1.612" stroke-linejoin="round">0</text>
<text transform="translate(320.92,103.90) scale(0.9706,1.0000)" font-family='"Liberation Sans",sans-serif' font-weight="normal" font-size="29.5" stroke="#000" stroke-width="1.442" stroke-linejoin="round">W</text>
<text transform="translate(349.51,103.90) scale(0.9918,1.0000)" font-family='"Liberation Sans",sans-serif' font-weight="normal" font-size="29.5" stroke="#000" stroke-width="1.412" stroke-linejoin="round">m</text>
<text transform="translate(378.44,88.70) scale(0.8408,1.0000)" font-family='"Liberation Sans",sans-serif' font-weight="normal" font-size="19" stroke="#000" stroke-width="0.952" stroke-linejoin="round">-</text>
<path transform="translate(383.63,88.70) scale(0.00922,-0.00928)" d="M515,0 L515,1237 L197,1010 L197,1180 L530,1409 L696,1409 L696,0 Z" stroke="#000" stroke-width="86.783" stroke-linejoin="round"/>
<text transform="translate(393.22,103.90) scale(1.0044,1.0000)" font-family='"Liberation Sans",sans-serif' font-weight="normal" font-size="29.5" stroke="#000" stroke-width="1.394" stroke-linejoin="round">K</text>
<text transform="translate(415.84,88.70) scale(0.8408,1.0000)" font-family='"Liberation Sans",sans-serif' font-weight="normal" font-size="19" stroke="#000" stroke-width="0.952" stroke-linejoin="round">-</text>
<path transform="translate(421.73,88.70) scale(0.00922,-0.00928)" d="M515,0 L515,1237 L197,1010 L197,1180 L530,1409 L696,1409 L696,0 Z" stroke="#000" stroke-width="86.783" stroke-linejoin="round"/>
<text transform="translate(215.05,141.80) scale(0.9716,1.0000)" font-family='"Liberation Sans",sans-serif' font-weight="normal" font-size="29.5" stroke="#000" stroke-width="1.441" stroke-linejoin="round">S</text>
<text transform="translate(235.85,150.30) scale(1.0270,1.0000)" font-family='"Liberation Sans",sans-serif' font-weight="normal" font-size="19" stroke="#000" stroke-width="0.779" stroke-linejoin="round">H</text>
<text transform="translate(250.84,139.12) scale(0.9070,0.8415)" font-family='"Liberation Sans",sans-serif' font-weight="normal" font-size="29.5" stroke="#000" stroke-width="1.543" stroke-linejoin="round">=</text>
<text transform="translate(269.74,141.80) scale(0.8722,1.0000)" font-family='"Liberation Sans",sans-serif' font-weight="normal" font-size="29.5" stroke="#000" stroke-width="1.605" stroke-linejoin="round">0</text>
<text transform="translate(287.36,141.80) scale(1.0000,1.0000)" font-family='"Liberation Sans",sans-serif' font-weight="normal" font-size="29.5" stroke="#000" stroke-width="1.400" stroke-linejoin="round">.</text>
<text transform="translate(297.75,141.80) scale(0.8937,1.0000)" font-family='"Liberation Sans",sans-serif' font-weight="normal" font-size="29.5" stroke="#000" stroke-width="1.566" stroke-linejoin="round">3</text>
<path fill-rule="evenodd" d="M214.2,180.0 L223.5,159.8 L224.4,159.8 L232.0,180.0 Z M215.98,178.8 L223.17,163.43 L228.98,178.8 Z"/>
<text transform="translate(235.19,179.50) scale(0.8453,1.0000)" font-family='"Liberation Sans",sans-serif' font-weight="normal" font-size="29.5" stroke="#000" stroke-width="1.656" stroke-linejoin="round">T</text>
<text transform="translate(253.08,176.67) scale(0.9489,0.8310)" font-family='"Liberation Sans",sans-serif' font-weight="normal" font-size="29.5" stroke="#000" stroke-width="1.475" stroke-linejoin="round">=</text>
<path transform="translate(272.15,179.50) scale(0.01423,-0.01440)" d="M515,0 L515,1237 L197,1010 L197,1180 L530,1409 L696,1409 L696,0 Z" stroke="#000" stroke-width="98.394" stroke-linejoin="round"/>
<text transform="translate(289.24,175.30) scale(0.9434,1.0000)" font-family='"Liberation Sans",sans-serif' font-weight="normal" font-size="29.5" stroke="#000" stroke-width="1.166" stroke-linejoin="round">°</text>
<text transform="translate(301.14,179.50) scale(0.9421,1.0000)" font-family='"Liberation Sans",sans-serif' font-weight="normal" font-size="29.5" stroke="#000" stroke-width="1.486" stroke-linejoin="round">C</text>
<text transform="translate(751.27,556.10) scale(0.8813,1.0000)" font-family='"Liberation Sans",sans-serif' font-weight="normal" font-size="29.5" stroke="#000" stroke-width="1.589" stroke-linejoin="round">T</text>
<text transform="translate(768.58,565.70) scale(0.9028,1.0000)" font-family='"Liberation Sans",sans-serif' font-weight="normal" font-size="19" stroke="#000" stroke-width="0.886" stroke-linejoin="round">0</text>
<text transform="translate(788.61,553.07) scale(0.9280,0.8310)" font-family='"Liberation Sans",sans-serif' font-weight="normal" font-size="29.5" stroke="#000" stroke-width="1.509" stroke-linejoin="round">=</text>
<text transform="translate(814.68,556.10) scale(0.9227,1.0000)" font-family='"Liberation Sans",sans-serif' font-weight="normal" font-size="29.5" stroke="#000" stroke-width="1.517" stroke-linejoin="round">2</text>
<text transform="translate(833.89,556.10) scale(0.8368,1.0000)" font-family='"Liberation Sans",sans-serif' font-weight="normal" font-size="29.5" stroke="#000" stroke-width="1.673" stroke-linejoin="round">0</text>
<text transform="translate(852.45,556.10) scale(0.8651,1.0000)" font-family='"Liberation Sans",sans-serif' font-weight="normal" font-size="29.5" stroke="#000" stroke-width="1.618" stroke-linejoin="round">0</text>
<text transform="translate(876.98,552.10) scale(0.9192,1.0000)" font-family='"Liberation Sans",sans-serif' font-weight="normal" font-size="29.5" stroke="#000" stroke-width="1.197" stroke-linejoin="round">°</text>
<text transform="translate(888.79,556.10) scale(0.9099,1.0000)" font-family='"Liberation Sans",sans-serif' font-weight="normal" font-size="29.5" stroke="#000" stroke-width="1.539" stroke-linejoin="round">C</text>
<text transform="translate(751.27,593.80) scale(0.8813,1.0000)" font-family='"Liberation Sans",sans-serif' font-weight="normal" font-size="29.5" stroke="#000" stroke-width="1.589" stroke-linejoin="round">T</text>
<text transform="translate(768.58,603.30) scale(0.9028,1.0000)" font-family='"Liberation Sans",sans-serif' font-weight="normal" font-size="19" stroke="#000" stroke-width="0.886" stroke-linejoin="round">0</text>
<text transform="translate(788.61,590.77) scale(0.9280,0.8310)" font-family='"Liberation Sans",sans-serif' font-weight="normal" font-size="29.5" stroke="#000" stroke-width="1.509" stroke-linejoin="round">=</text>
<path transform="translate(814.63,593.80) scale(0.01483,-0.01440)" d="M515,0 L515,1237 L197,1010 L197,1180 L530,1409 L696,1409 L696,0 Z" stroke="#000" stroke-width="94.405" stroke-linejoin="round"/>
<text transform="translate(833.23,593.80) scale(0.8651,1.0000)" font-family='"Liberation Sans",sans-serif' font-weight="normal" font-size="29.5" stroke="#000" stroke-width="1.618" stroke-linejoin="round">5</text>
<text transform="translate(852.45,593.80) scale(0.8651,1.0000)" font-family='"Liberation Sans",sans-serif' font-weight="normal" font-size="29.5" stroke="#000" stroke-width="1.618" stroke-linejoin="round">0</text>
<text transform="translate(876.98,589.80) scale(0.9192,1.0000)" font-family='"Liberation Sans",sans-serif' font-weight="normal" font-size="29.5" stroke="#000" stroke-width="1.197" stroke-linejoin="round">°</text>
<text transform="translate(888.79,593.80) scale(0.9099,1.0000)" font-family='"Liberation Sans",sans-serif' font-weight="normal" font-size="29.5" stroke="#000" stroke-width="1.539" stroke-linejoin="round">C</text>
<text transform="translate(751.27,633.20) scale(0.8813,1.0000)" font-family='"Liberation Sans",sans-serif' font-weight="normal" font-size="29.5" stroke="#000" stroke-width="1.589" stroke-linejoin="round">T</text>
<text transform="translate(768.58,641.40) scale(0.9028,1.0000)" font-family='"Liberation Sans",sans-serif' font-weight="normal" font-size="19" stroke="#000" stroke-width="0.886" stroke-linejoin="round">0</text>
<text transform="translate(788.61,630.17) scale(0.9280,0.8310)" font-family='"Liberation Sans",sans-serif' font-weight="normal" font-size="29.5" stroke="#000" stroke-width="1.509" stroke-linejoin="round">=</text>
<path transform="translate(814.63,633.20) scale(0.01483,-0.01440)" d="M515,0 L515,1237 L197,1010 L197,1180 L530,1409 L696,1409 L696,0 Z" stroke="#000" stroke-width="94.405" stroke-linejoin="round"/>
<text transform="translate(833.89,633.20) scale(0.8368,1.0000)" font-family='"Liberation Sans",sans-serif' font-weight="normal" font-size="29.5" stroke="#000" stroke-width="1.673" stroke-linejoin="round">0</text>
<text transform="translate(852.45,633.20) scale(0.8651,1.0000)" font-family='"Liberation Sans",sans-serif' font-weight="normal" font-size="29.5" stroke="#000" stroke-width="1.618" stroke-linejoin="round">0</text>
<text transform="translate(876.98,629.20) scale(0.9192,1.0000)" font-family='"Liberation Sans",sans-serif' font-weight="normal" font-size="29.5" stroke="#000" stroke-width="1.197" stroke-linejoin="round">°</text>
<text transform="translate(888.79,633.20) scale(0.9099,1.0000)" font-family='"Liberation Sans",sans-serif' font-weight="normal" font-size="29.5" stroke="#000" stroke-width="1.539" stroke-linejoin="round">C</text>
</g>
</svg>
</body></html>
